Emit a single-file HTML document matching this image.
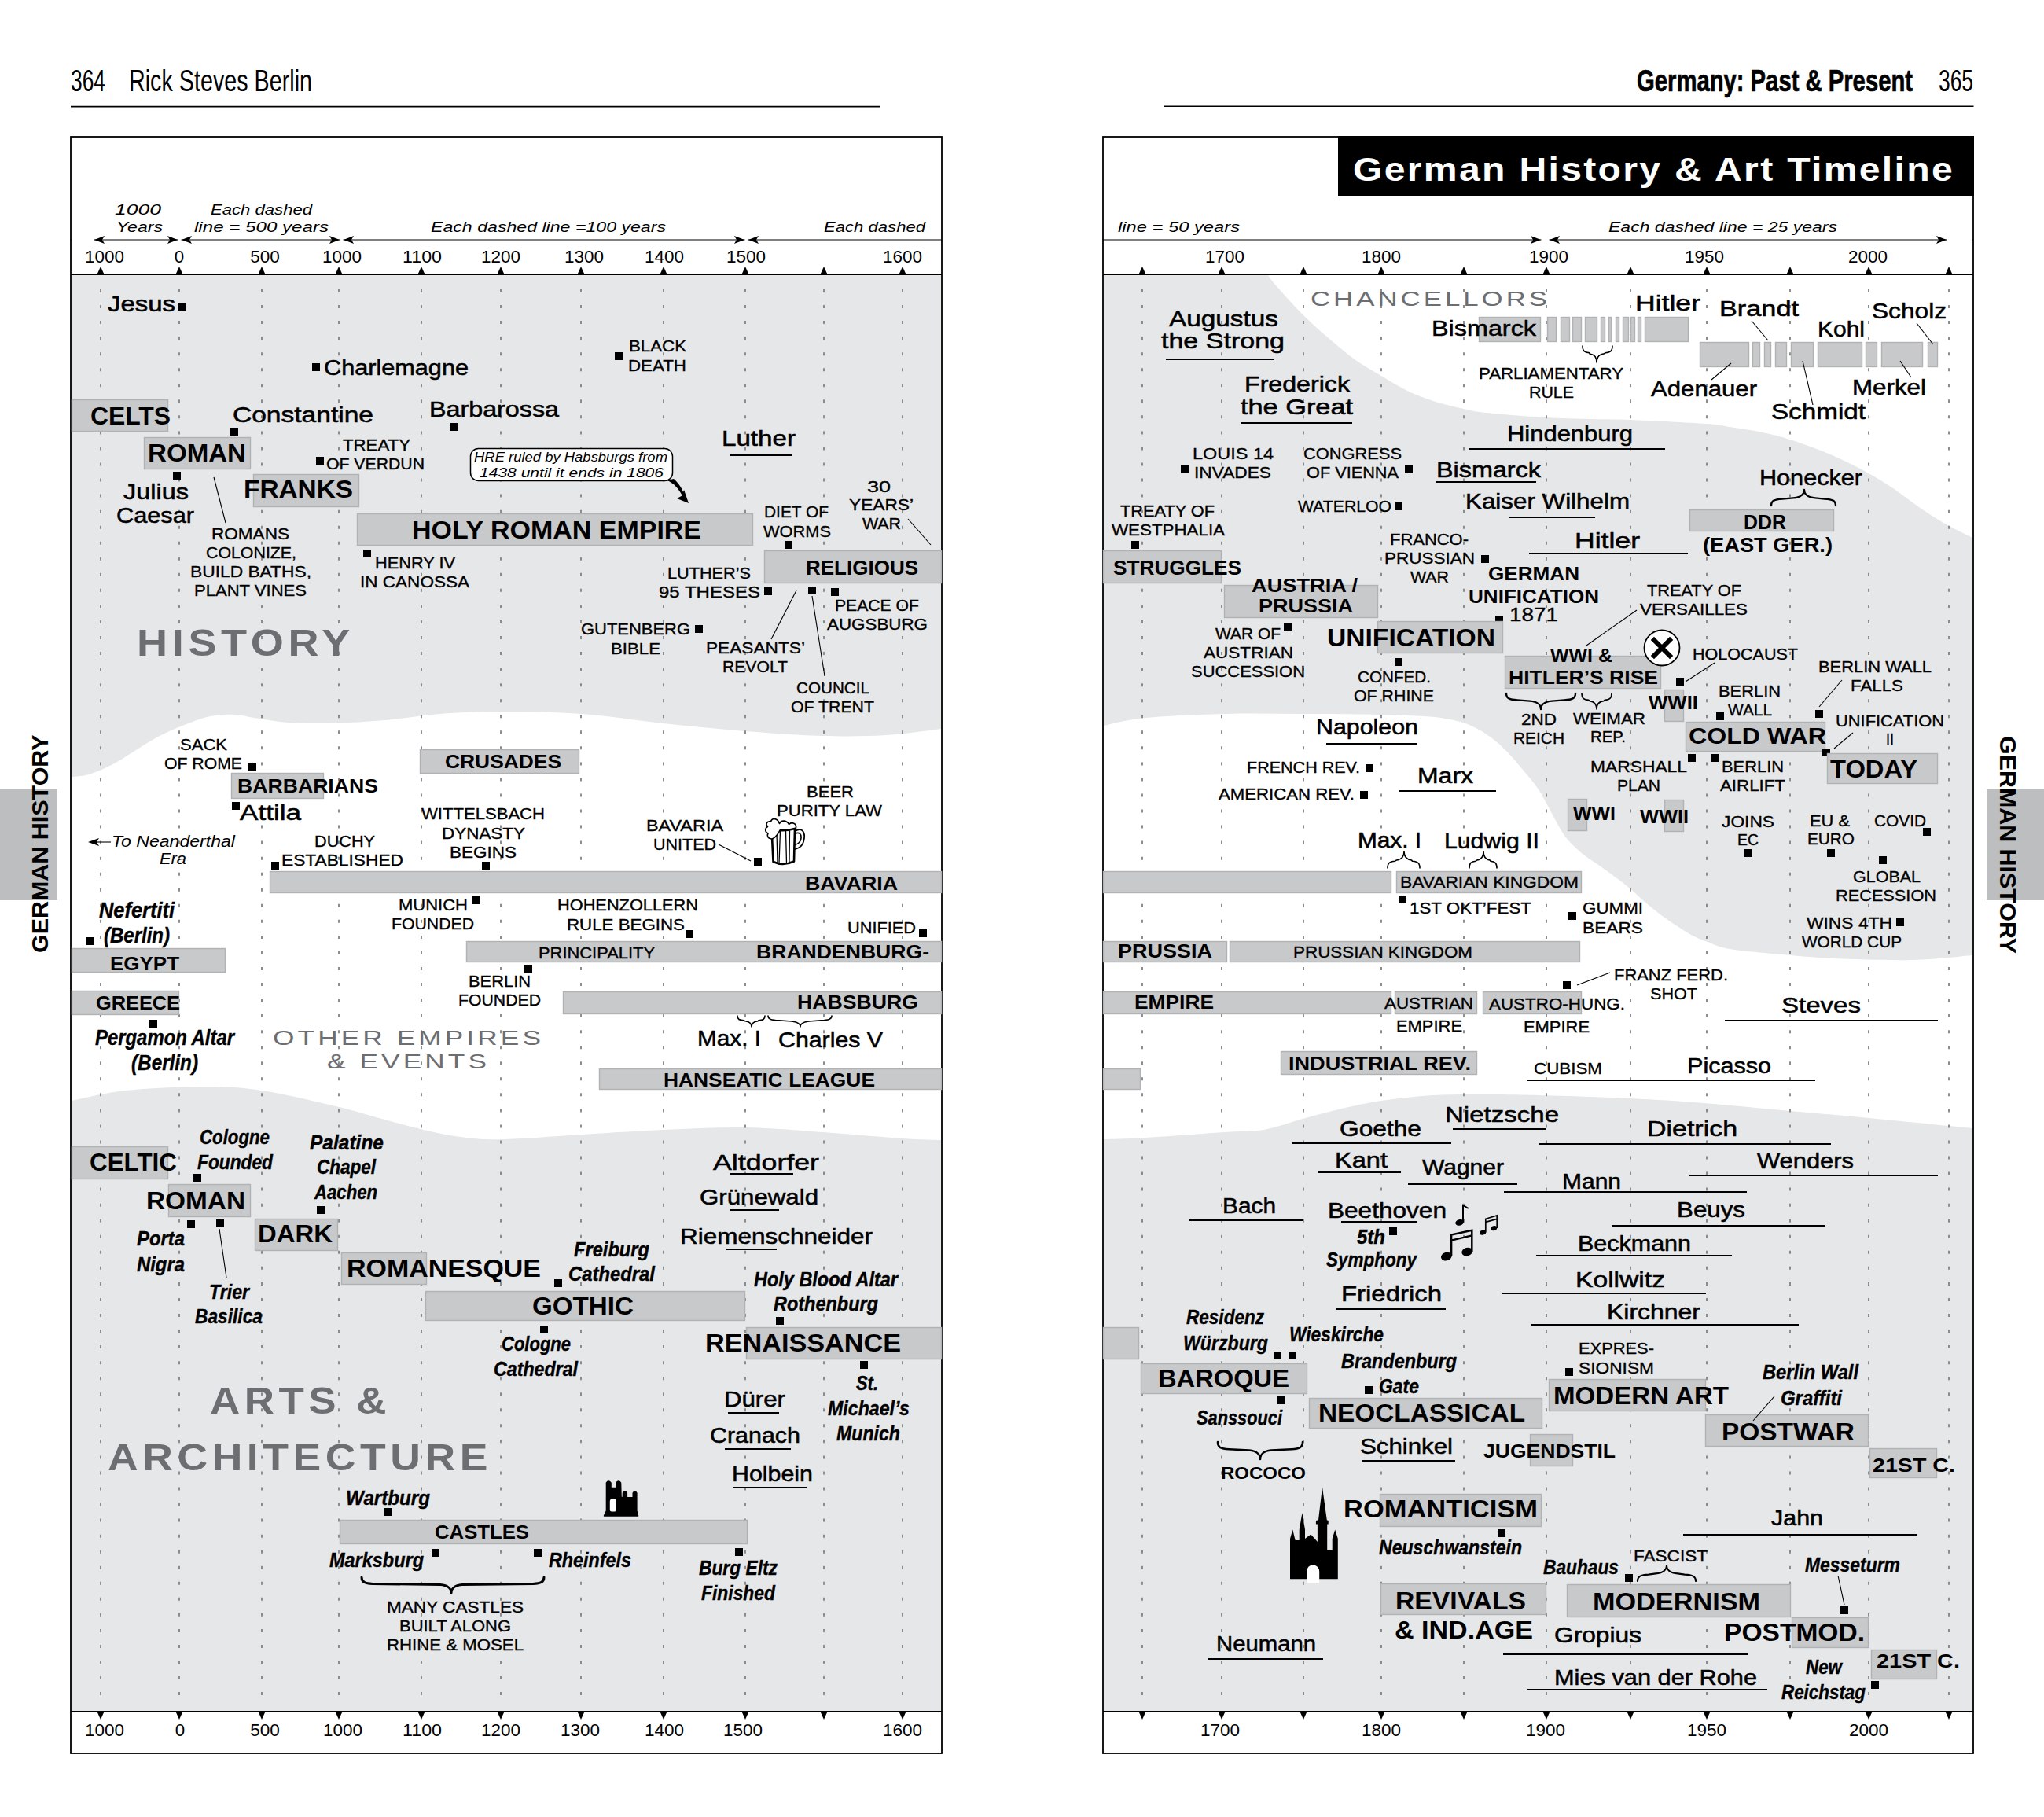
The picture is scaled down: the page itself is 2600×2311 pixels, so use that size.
<!DOCTYPE html>
<html lang="en"><head><meta charset="utf-8"><title>German History &amp; Art Timeline</title>
<style>
html,body{margin:0;padding:0;background:#fff}
svg{display:block}
text{font-family:"Liberation Sans","DejaVu Sans",sans-serif}
</style></head><body>
<svg width="2600" height="2311" viewBox="0 0 2600 2311">
<rect width="2600" height="2311" fill="#fff"/>
<rect x="0" y="1003" width="73" height="142" fill="#bdbec0"/>
<rect x="2527" y="1003" width="73" height="142" fill="#bdbec0"/>
<text transform="translate(61,1212) rotate(-90)" font-size="30" font-weight="bold" textLength="277.5" lengthAdjust="spacingAndGlyphs">GERMAN HISTORY</text>
<text transform="translate(2543.5,936) rotate(90)" font-size="30" font-weight="bold" textLength="277" lengthAdjust="spacingAndGlyphs">GERMAN HISTORY</text>
<text x="90" y="116" font-size="39.5" textLength="44" lengthAdjust="spacingAndGlyphs">364</text>
<text x="164" y="116" font-size="39.5" textLength="233" lengthAdjust="spacingAndGlyphs">Rick Steves Berlin</text>
<line x1="90" y1="135.6" x2="1120" y2="135.6" stroke="#000" stroke-width="1.6"/>
<text x="2082" y="116" font-size="39.5" font-weight="bold" textLength="351" lengthAdjust="spacingAndGlyphs" stroke="#000" stroke-width="0.7">Germany: Past &amp; Present</text>
<text x="2466" y="116" font-size="39.5" textLength="44" lengthAdjust="spacingAndGlyphs">365</text>
<line x1="1481" y1="135.3" x2="2510.5" y2="135.3" stroke="#000" stroke-width="1.6"/>
<path d="M91,350 L1197,350 L1197,927 C1185.3,928.3 1152.0,933.5 1127,935 C1102.0,936.5 1076.8,936.8 1047,936 C1017.2,935.2 982.0,932.7 948,930 C914.0,927.3 877.7,923.7 843,920 C808.3,916.3 774.3,910.5 740,908 C705.7,905.5 667.0,905.0 637,905 C607.0,905.0 584.5,906.2 560,908 C535.5,909.8 512.8,914.0 490,916 C467.2,918.0 444.0,919.2 423,919.7 C402.0,920.2 380.3,919.8 364,918.7 C347.7,917.6 334.8,914.8 325,913.3 C315.2,911.8 311.5,910.1 305,909.4 C298.5,908.7 292.5,908.7 286,909 C279.5,909.3 272.5,909.9 266,911.3 C259.5,912.7 253.5,914.9 247,917.2 C240.5,919.5 233.7,922.2 227,925 C220.3,927.8 213.5,930.7 207,934 C200.5,937.3 194.5,940.7 188,944.6 C181.5,948.5 174.5,953.2 168,957.3 C161.5,961.4 155.5,965.4 149,969 C142.5,972.6 135.5,976.2 129,979 C122.5,981.8 116.3,984.2 110,985.7 C103.7,987.2 94.2,987.6 91,988 Z" fill="#e6e7e8"/>
<path d="M91,1400 C102.5,1397.8 131.8,1390.0 160,1387 C188.2,1384.0 231.2,1382.0 260,1382 C288.8,1382.0 305.2,1382.8 333,1387 C360.8,1391.2 400.3,1400.7 427,1407 C453.7,1413.3 473.7,1419.8 493,1425 C512.3,1430.2 526.3,1434.3 543,1438 C559.7,1441.7 576.3,1445.2 593,1447 C609.7,1448.8 618.5,1449.7 643,1449 C667.5,1448.3 706.7,1445.0 740,1443 C773.3,1441.0 808.3,1438.5 843,1437 C877.7,1435.5 914.0,1433.5 948,1434 C982.0,1434.5 1013.8,1437.7 1047,1440 C1080.2,1442.3 1122.0,1446.3 1147,1448 C1172.0,1449.7 1188.7,1449.7 1197,1450 L1197,2177 L91,2177 Z" fill="#e6e7e8"/>
<path d="M1404,350 L1613,350 C1614.7,352.2 1615.7,354.7 1623,363 C1630.3,371.3 1645.8,388.8 1657,400 C1668.2,411.2 1679.0,420.5 1690,430 C1701.0,439.5 1711.8,449.0 1723,457 C1734.2,465.0 1745.8,471.3 1757,478 C1768.2,484.7 1779.0,491.7 1790,497 C1801.0,502.3 1811.0,506.2 1823,510 C1835.0,513.8 1850.8,517.5 1862,520 C1873.2,522.5 1872.8,523.2 1890,525 C1907.2,526.8 1942.8,529.7 1965,531 C1987.2,532.3 2004.8,532.5 2023,533 C2041.2,533.5 2049.5,533.0 2074,534 C2098.5,535.0 2149.0,537.5 2170,539 C2191.0,540.5 2188.0,541.2 2200,543 C2212.0,544.8 2229.2,547.3 2242,550 C2254.8,552.7 2264.7,555.2 2277,559 C2289.3,562.8 2303.8,568.2 2316,573 C2328.2,577.8 2340.0,583.2 2350,588 C2360.0,592.8 2366.3,596.0 2376,601.5 C2385.7,607.0 2397.2,613.8 2408,621 C2418.8,628.2 2430.0,637.5 2441,645 C2452.0,652.5 2462.7,659.5 2474,666 C2485.3,672.5 2503.2,681.0 2509,684 L2509,1215 C2496.3,1216.0 2462.3,1220.3 2433,1221 C2403.7,1221.7 2360.7,1220.2 2333,1219 C2305.3,1217.8 2289.2,1216.0 2267,1214 C2244.8,1212.0 2215.8,1209.7 2200,1207 C2184.2,1204.3 2180.0,1200.9 2172,1198 C2164.0,1195.1 2158.5,1192.8 2152,1189.4 C2145.5,1186.0 2139.5,1181.9 2133,1177.7 C2126.5,1173.5 2119.6,1168.9 2113,1164 C2106.4,1159.1 2100.0,1153.8 2093.5,1148.3 C2087.0,1142.8 2080.6,1136.2 2074,1130.7 C2067.4,1125.2 2060.5,1119.9 2054,1115 C2047.5,1110.1 2041.5,1105.9 2035,1101.3 C2028.5,1096.7 2021.5,1092.8 2015,1087.6 C2008.5,1082.4 2000.8,1075.2 1996,1070 C1991.2,1064.8 1990.0,1062.8 1986,1056.3 C1982.0,1049.8 1976.9,1039.8 1972,1031 C1967.1,1022.2 1962.4,1012.2 1956.6,1003.5 C1950.8,994.8 1943.5,986.8 1937,979 C1930.5,971.2 1923.9,963.2 1917.4,956.5 C1910.9,949.8 1904.6,944.0 1898,939 C1891.4,934.0 1884.5,929.6 1878,926.2 C1871.5,922.8 1867.2,920.7 1859,918.4 C1850.8,916.1 1838.8,913.8 1829,912.5 C1819.2,911.2 1812.0,911.1 1800,910.5 C1788.0,909.9 1780.8,909.4 1757,909 C1733.2,908.6 1690.3,908.2 1657,908 C1623.7,907.8 1590.3,907.2 1557,908 C1523.7,908.8 1482.5,910.5 1457,913 C1431.5,915.5 1412.8,921.3 1404,923 Z" fill="#e6e7e8"/>
<path d="M1404,1449 C1412.8,1448.7 1431.5,1448.5 1457,1447 C1482.5,1445.5 1532.0,1441.7 1557,1440 C1582.0,1438.3 1590.3,1439.8 1607,1437 C1623.7,1434.2 1640.3,1427.5 1657,1423 C1673.7,1418.5 1690.3,1413.8 1707,1410 C1723.7,1406.2 1737.7,1402.8 1757,1400 C1776.3,1397.2 1800.8,1394.3 1823,1393 C1845.2,1391.7 1867.7,1392.0 1890,1392 C1912.3,1392.0 1926.5,1392.2 1957,1393 C1987.5,1393.8 2038.0,1395.3 2073,1397 C2108.0,1398.7 2133.0,1400.3 2167,1403 C2201.0,1405.7 2242.0,1409.8 2277,1413 C2312.0,1416.2 2338.3,1418.3 2377,1422 C2415.7,1425.7 2487.0,1432.8 2509,1435 L2509,2177 L1404,2177 Z" fill="#e6e7e8"/>
<line x1="128" y1="368" x2="128" y2="2170" stroke="#87888a" stroke-width="1.9" stroke-dasharray="4 16.046"/>
<line x1="228" y1="368" x2="228" y2="2170" stroke="#87888a" stroke-width="1.9" stroke-dasharray="4 16.046"/>
<line x1="333" y1="368" x2="333" y2="2170" stroke="#87888a" stroke-width="1.9" stroke-dasharray="4 16.046"/>
<line x1="431" y1="368" x2="431" y2="2170" stroke="#87888a" stroke-width="1.9" stroke-dasharray="4 16.046"/>
<line x1="536" y1="368" x2="536" y2="2170" stroke="#87888a" stroke-width="1.9" stroke-dasharray="4 16.046"/>
<line x1="637" y1="368" x2="637" y2="2170" stroke="#87888a" stroke-width="1.9" stroke-dasharray="4 16.046"/>
<line x1="739" y1="368" x2="739" y2="2170" stroke="#87888a" stroke-width="1.9" stroke-dasharray="4 16.046"/>
<line x1="844" y1="368" x2="844" y2="2170" stroke="#87888a" stroke-width="1.9" stroke-dasharray="4 16.046"/>
<line x1="948" y1="368" x2="948" y2="2170" stroke="#87888a" stroke-width="1.9" stroke-dasharray="4 16.046"/>
<line x1="1048" y1="368" x2="1048" y2="2170" stroke="#87888a" stroke-width="1.9" stroke-dasharray="4 16.046"/>
<line x1="1148" y1="368" x2="1148" y2="2170" stroke="#87888a" stroke-width="1.9" stroke-dasharray="4 16.046"/>
<line x1="1453" y1="368" x2="1453" y2="2170" stroke="#87888a" stroke-width="1.9" stroke-dasharray="4 16.046"/>
<line x1="1554" y1="368" x2="1554" y2="2170" stroke="#87888a" stroke-width="1.9" stroke-dasharray="4 16.046"/>
<line x1="1658" y1="368" x2="1658" y2="2170" stroke="#87888a" stroke-width="1.9" stroke-dasharray="4 16.046"/>
<line x1="1757" y1="368" x2="1757" y2="2170" stroke="#87888a" stroke-width="1.9" stroke-dasharray="4 16.046"/>
<line x1="1862" y1="368" x2="1862" y2="2170" stroke="#87888a" stroke-width="1.9" stroke-dasharray="4 16.046"/>
<line x1="1967" y1="368" x2="1967" y2="2170" stroke="#87888a" stroke-width="1.9" stroke-dasharray="4 16.046"/>
<line x1="2074" y1="368" x2="2074" y2="2170" stroke="#87888a" stroke-width="1.9" stroke-dasharray="4 16.046"/>
<line x1="2171" y1="368" x2="2171" y2="2170" stroke="#87888a" stroke-width="1.9" stroke-dasharray="4 16.046"/>
<line x1="2277" y1="368" x2="2277" y2="2170" stroke="#87888a" stroke-width="1.9" stroke-dasharray="4 16.046"/>
<line x1="2377" y1="368" x2="2377" y2="2170" stroke="#87888a" stroke-width="1.9" stroke-dasharray="4 16.046"/>
<line x1="2479" y1="368" x2="2479" y2="2170" stroke="#87888a" stroke-width="1.9" stroke-dasharray="4 16.046"/>
<rect x="90" y="174" width="1108" height="2056" fill="none" stroke="#000" stroke-width="1.8"/>
<line x1="90" y1="349" x2="1198" y2="349" stroke="#000" stroke-width="2.2"/>
<line x1="90" y1="2177" x2="1198" y2="2177" stroke="#000" stroke-width="2.2"/>
<line x1="90" y1="305" x2="1198" y2="305" stroke="#000" stroke-width="1"/>
<rect x="1403" y="174" width="1107" height="2056" fill="none" stroke="#000" stroke-width="1.8"/>
<line x1="1403" y1="349" x2="2510" y2="349" stroke="#000" stroke-width="2.2"/>
<line x1="1403" y1="2177" x2="2510" y2="2177" stroke="#000" stroke-width="2.2"/>
<line x1="1403" y1="305" x2="2510" y2="305" stroke="#000" stroke-width="1"/>
<path d="M123.5,349 L128,339 L132.5,349 Z" fill="#000"/>
<path d="M123.5,2177 L128,2187 L132.5,2177 Z" fill="#000"/>
<path d="M223.5,349 L228,339 L232.5,349 Z" fill="#000"/>
<path d="M223.5,2177 L228,2187 L232.5,2177 Z" fill="#000"/>
<path d="M328.5,349 L333,339 L337.5,349 Z" fill="#000"/>
<path d="M328.5,2177 L333,2187 L337.5,2177 Z" fill="#000"/>
<path d="M426.5,349 L431,339 L435.5,349 Z" fill="#000"/>
<path d="M426.5,2177 L431,2187 L435.5,2177 Z" fill="#000"/>
<path d="M531.5,349 L536,339 L540.5,349 Z" fill="#000"/>
<path d="M531.5,2177 L536,2187 L540.5,2177 Z" fill="#000"/>
<path d="M632.5,349 L637,339 L641.5,349 Z" fill="#000"/>
<path d="M632.5,2177 L637,2187 L641.5,2177 Z" fill="#000"/>
<path d="M734.5,349 L739,339 L743.5,349 Z" fill="#000"/>
<path d="M734.5,2177 L739,2187 L743.5,2177 Z" fill="#000"/>
<path d="M839.5,349 L844,339 L848.5,349 Z" fill="#000"/>
<path d="M839.5,2177 L844,2187 L848.5,2177 Z" fill="#000"/>
<path d="M943.5,349 L948,339 L952.5,349 Z" fill="#000"/>
<path d="M943.5,2177 L948,2187 L952.5,2177 Z" fill="#000"/>
<path d="M1043.5,349 L1048,339 L1052.5,349 Z" fill="#000"/>
<path d="M1043.5,2177 L1048,2187 L1052.5,2177 Z" fill="#000"/>
<path d="M1143.5,349 L1148,339 L1152.5,349 Z" fill="#000"/>
<path d="M1143.5,2177 L1148,2187 L1152.5,2177 Z" fill="#000"/>
<path d="M1448.5,349 L1453,339 L1457.5,349 Z" fill="#000"/>
<path d="M1448.5,2177 L1453,2187 L1457.5,2177 Z" fill="#000"/>
<path d="M1549.5,349 L1554,339 L1558.5,349 Z" fill="#000"/>
<path d="M1549.5,2177 L1554,2187 L1558.5,2177 Z" fill="#000"/>
<path d="M1653.5,349 L1658,339 L1662.5,349 Z" fill="#000"/>
<path d="M1653.5,2177 L1658,2187 L1662.5,2177 Z" fill="#000"/>
<path d="M1752.5,349 L1757,339 L1761.5,349 Z" fill="#000"/>
<path d="M1752.5,2177 L1757,2187 L1761.5,2177 Z" fill="#000"/>
<path d="M1857.5,349 L1862,339 L1866.5,349 Z" fill="#000"/>
<path d="M1857.5,2177 L1862,2187 L1866.5,2177 Z" fill="#000"/>
<path d="M1962.5,349 L1967,339 L1971.5,349 Z" fill="#000"/>
<path d="M1962.5,2177 L1967,2187 L1971.5,2177 Z" fill="#000"/>
<path d="M2069.5,349 L2074,339 L2078.5,349 Z" fill="#000"/>
<path d="M2069.5,2177 L2074,2187 L2078.5,2177 Z" fill="#000"/>
<path d="M2166.5,349 L2171,339 L2175.5,349 Z" fill="#000"/>
<path d="M2166.5,2177 L2171,2187 L2175.5,2177 Z" fill="#000"/>
<path d="M2272.5,349 L2277,339 L2281.5,349 Z" fill="#000"/>
<path d="M2272.5,2177 L2277,2187 L2281.5,2177 Z" fill="#000"/>
<path d="M2372.5,349 L2377,339 L2381.5,349 Z" fill="#000"/>
<path d="M2372.5,2177 L2377,2187 L2381.5,2177 Z" fill="#000"/>
<path d="M2474.5,349 L2479,339 L2483.5,349 Z" fill="#000"/>
<path d="M2474.5,2177 L2479,2187 L2483.5,2177 Z" fill="#000"/>
<rect x="91" y="300" width="29" height="10" fill="#fff"/>
<path d="M120,305 L133,300 L130,305 L133,310 Z" fill="#000"/>
<path d="M226,305 L213,300 L216,305 L213,310 Z" fill="#000"/>
<path d="M231,305 L244,300 L241,305 L244,310 Z" fill="#000"/>
<path d="M432,305 L419,300 L422,305 L419,310 Z" fill="#000"/>
<path d="M437,305 L450,300 L447,305 L450,310 Z" fill="#000"/>
<path d="M947,305 L934,300 L937,305 L934,310 Z" fill="#000"/>
<path d="M952,305 L965,300 L962,305 L965,310 Z" fill="#000"/>
<rect x="226.5" y="300" width="4" height="10" fill="#fff"/><rect x="432.5" y="300" width="4" height="10" fill="#fff"/><rect x="947.5" y="300" width="4" height="10" fill="#fff"/>
<path d="M1960,305 L1947,300 L1950,305 L1947,310 Z" fill="#000"/>
<path d="M1971,305 L1984,300 L1981,305 L1984,310 Z" fill="#000"/>
<path d="M2476,305 L2463,300 L2466,305 L2463,310 Z" fill="#000"/>
<rect x="1960.5" y="300" width="10" height="10" fill="#fff"/><rect x="2476.5" y="300" width="32" height="10" fill="#fff"/>
<text x="108.0" y="334" font-size="22" textLength="50.0" lengthAdjust="spacingAndGlyphs">1000</text>
<text x="221.8" y="334" font-size="22" textLength="12.399999999999977" lengthAdjust="spacingAndGlyphs">0</text>
<text x="318.2" y="334" font-size="22" textLength="37.60000000000002" lengthAdjust="spacingAndGlyphs">500</text>
<text x="410.0" y="334" font-size="22" textLength="50.0" lengthAdjust="spacingAndGlyphs">1000</text>
<text x="512.0" y="334" font-size="22" textLength="50.0" lengthAdjust="spacingAndGlyphs">1100</text>
<text x="612.0" y="334" font-size="22" textLength="50.0" lengthAdjust="spacingAndGlyphs">1200</text>
<text x="718.0" y="334" font-size="22" textLength="50.0" lengthAdjust="spacingAndGlyphs">1300</text>
<text x="820.0" y="334" font-size="22" textLength="50.0" lengthAdjust="spacingAndGlyphs">1400</text>
<text x="924.0" y="334" font-size="22" textLength="50.0" lengthAdjust="spacingAndGlyphs">1500</text>
<text x="1123.0" y="334" font-size="22" textLength="50.0" lengthAdjust="spacingAndGlyphs">1600</text>
<text x="1533.0" y="334" font-size="22" textLength="50.0" lengthAdjust="spacingAndGlyphs">1700</text>
<text x="1732.0" y="334" font-size="22" textLength="50.0" lengthAdjust="spacingAndGlyphs">1800</text>
<text x="1945.0" y="334" font-size="22" textLength="50.0" lengthAdjust="spacingAndGlyphs">1900</text>
<text x="2143.0" y="334" font-size="22" textLength="50.0" lengthAdjust="spacingAndGlyphs">1950</text>
<text x="2351.0" y="334" font-size="22" textLength="50.0" lengthAdjust="spacingAndGlyphs">2000</text>
<text x="108.0" y="2208" font-size="22" textLength="50.0" lengthAdjust="spacingAndGlyphs">1000</text>
<text x="222.8" y="2208" font-size="22" textLength="12.399999999999977" lengthAdjust="spacingAndGlyphs">0</text>
<text x="318.2" y="2208" font-size="22" textLength="37.60000000000002" lengthAdjust="spacingAndGlyphs">500</text>
<text x="411.0" y="2208" font-size="22" textLength="50.0" lengthAdjust="spacingAndGlyphs">1000</text>
<text x="512.0" y="2208" font-size="22" textLength="50.0" lengthAdjust="spacingAndGlyphs">1100</text>
<text x="612.0" y="2208" font-size="22" textLength="50.0" lengthAdjust="spacingAndGlyphs">1200</text>
<text x="713.0" y="2208" font-size="22" textLength="50.0" lengthAdjust="spacingAndGlyphs">1300</text>
<text x="820.0" y="2208" font-size="22" textLength="50.0" lengthAdjust="spacingAndGlyphs">1400</text>
<text x="920.0" y="2208" font-size="22" textLength="50.0" lengthAdjust="spacingAndGlyphs">1500</text>
<text x="1123.0" y="2208" font-size="22" textLength="50.0" lengthAdjust="spacingAndGlyphs">1600</text>
<text x="1527.0" y="2208" font-size="22" textLength="50.0" lengthAdjust="spacingAndGlyphs">1700</text>
<text x="1732.0" y="2208" font-size="22" textLength="50.0" lengthAdjust="spacingAndGlyphs">1800</text>
<text x="1941.0" y="2208" font-size="22" textLength="50.0" lengthAdjust="spacingAndGlyphs">1900</text>
<text x="2146.0" y="2208" font-size="22" textLength="50.0" lengthAdjust="spacingAndGlyphs">1950</text>
<text x="2352.0" y="2208" font-size="22" textLength="50.0" lengthAdjust="spacingAndGlyphs">2000</text>
<text x="146" y="273" font-size="19" font-style="italic" textLength="59" lengthAdjust="spacingAndGlyphs">1000</text>
<text x="148" y="295" font-size="19" font-style="italic" textLength="59" lengthAdjust="spacingAndGlyphs">Years</text>
<text x="268" y="273" font-size="19" font-style="italic" textLength="129" lengthAdjust="spacingAndGlyphs">Each dashed</text>
<text x="247" y="295" font-size="19" font-style="italic" textLength="171" lengthAdjust="spacingAndGlyphs">line = 500 years</text>
<text x="548" y="295" font-size="19" font-style="italic" textLength="299" lengthAdjust="spacingAndGlyphs">Each dashed line =100 years</text>
<text x="1048" y="295" font-size="19" font-style="italic" textLength="129" lengthAdjust="spacingAndGlyphs">Each dashed</text>
<text x="1422" y="295" font-size="19" font-style="italic" textLength="155" lengthAdjust="spacingAndGlyphs">line = 50 years</text>
<text x="2046" y="295" font-size="19" font-style="italic" textLength="291" lengthAdjust="spacingAndGlyphs">Each dashed line = 25 years</text>
<rect x="1702" y="173" width="809" height="76" fill="#000"/>
<text x="1721" y="230" font-size="42" font-weight="bold" fill="#fff" letter-spacing="2" textLength="765" lengthAdjust="spacingAndGlyphs">German History &amp; Art Timeline</text>
<text x="137" y="396" font-size="28.5" stroke="#000" stroke-width="0.55" textLength="86" lengthAdjust="spacingAndGlyphs">Jesus</text>
<rect x="226" y="385" width="10" height="10" fill="#000"/>
<rect x="397" y="462" width="10" height="10" fill="#000"/>
<text x="412" y="477" font-size="28.5" stroke="#000" stroke-width="0.55" textLength="184" lengthAdjust="spacingAndGlyphs">Charlemagne</text>
<rect x="91.5" y="508.5" width="122" height="40" fill="#c8c9cb" stroke="#b1b2b4" stroke-width="1.4"/>
<text x="115" y="540" font-size="32" font-weight="bold" textLength="102" lengthAdjust="spacingAndGlyphs">CELTS</text>
<text x="296" y="537" font-size="28.5" stroke="#000" stroke-width="0.55" textLength="179" lengthAdjust="spacingAndGlyphs">Constantine</text>
<rect x="293" y="544" width="10" height="10" fill="#000"/>
<text x="546" y="530" font-size="28.5" stroke="#000" stroke-width="0.55" textLength="165" lengthAdjust="spacingAndGlyphs">Barbarossa</text>
<rect x="573" y="538" width="10" height="10" fill="#000"/>
<rect x="183.5" y="556.5" width="135" height="40" fill="#c8c9cb" stroke="#b1b2b4" stroke-width="1.4"/>
<text x="188" y="587" font-size="32" font-weight="bold" textLength="125" lengthAdjust="spacingAndGlyphs">ROMAN</text>
<text x="436" y="573" font-size="21" stroke="#000" stroke-width="0.35" textLength="86" lengthAdjust="spacingAndGlyphs">TREATY</text>
<text x="415" y="597" font-size="21" stroke="#000" stroke-width="0.35" textLength="125" lengthAdjust="spacingAndGlyphs">OF VERDUN</text>
<rect x="402" y="581" width="10" height="10" fill="#000"/>
<rect x="322.5" y="603.5" width="134" height="41" fill="#c8c9cb" stroke="#b1b2b4" stroke-width="1.4"/>
<text x="310" y="633" font-size="32" font-weight="bold" textLength="139" lengthAdjust="spacingAndGlyphs">FRANKS</text>
<rect x="220" y="600" width="10" height="10" fill="#000"/>
<text x="157" y="635" font-size="28.5" stroke="#000" stroke-width="0.55" textLength="83" lengthAdjust="spacingAndGlyphs">Julius</text>
<text x="148" y="665" font-size="28.5" stroke="#000" stroke-width="0.55" textLength="99" lengthAdjust="spacingAndGlyphs">Caesar</text>
<line x1="272" y1="607" x2="287" y2="665" stroke="#000" stroke-width="1.1"/>
<rect x="782" y="448" width="10" height="10" fill="#000"/>
<text x="800" y="447" font-size="21" stroke="#000" stroke-width="0.35" textLength="73" lengthAdjust="spacingAndGlyphs">BLACK</text>
<text x="799" y="472" font-size="21" stroke="#000" stroke-width="0.35" textLength="74" lengthAdjust="spacingAndGlyphs">DEATH</text>
<text x="918" y="567" font-size="28.5" stroke="#000" stroke-width="0.55" textLength="94" lengthAdjust="spacingAndGlyphs">Luther</text>
<line x1="929" y1="579" x2="1008" y2="579" stroke="#000" stroke-width="1.8"/>
<path d="M848,611 C857,614 864,622 868.5,632 L871,630.5 C867.5,621 863,614 857,609 Z" fill="#000"/>
<rect x="598.5" y="570.5" width="257" height="41" rx="10" ry="10" fill="#fff" stroke="#000" stroke-width="1.5"/>
<text x="603" y="587" font-size="16.5" font-style="italic" textLength="246" lengthAdjust="spacingAndGlyphs">HRE ruled by Habsburgs from</text>
<text x="610" y="607" font-size="16.5" font-style="italic" textLength="234" lengthAdjust="spacingAndGlyphs">1438 until it ends in 1806</text>
<path d="M876,640 L861,634 L867.5,630.5 L870,623 Z" fill="#000"/>
<text x="1103" y="626" font-size="21" stroke="#000" stroke-width="0.35" textLength="30" lengthAdjust="spacingAndGlyphs">30</text>
<text x="1080" y="649" font-size="21" stroke="#000" stroke-width="0.35" textLength="82" lengthAdjust="spacingAndGlyphs">YEARS’</text>
<text x="1097" y="673" font-size="21" stroke="#000" stroke-width="0.35" textLength="49" lengthAdjust="spacingAndGlyphs">WAR</text>
<line x1="1155" y1="660" x2="1184" y2="693" stroke="#000" stroke-width="1.1"/>
<text x="972" y="658" font-size="21" stroke="#000" stroke-width="0.35" textLength="82" lengthAdjust="spacingAndGlyphs">DIET OF</text>
<text x="971" y="683" font-size="21" stroke="#000" stroke-width="0.35" textLength="86" lengthAdjust="spacingAndGlyphs">WORMS</text>
<rect x="998" y="688" width="10" height="10" fill="#000"/>
<text x="269" y="686" font-size="21" stroke="#000" stroke-width="0.35" textLength="99" lengthAdjust="spacingAndGlyphs">ROMANS</text>
<text x="262" y="710" font-size="21" stroke="#000" stroke-width="0.35" textLength="115" lengthAdjust="spacingAndGlyphs">COLONIZE,</text>
<text x="242" y="734" font-size="21" stroke="#000" stroke-width="0.35" textLength="154" lengthAdjust="spacingAndGlyphs">BUILD BATHS,</text>
<text x="247" y="758" font-size="21" stroke="#000" stroke-width="0.35" textLength="143" lengthAdjust="spacingAndGlyphs">PLANT VINES</text>
<rect x="454.5" y="653.5" width="503" height="40" fill="#c8c9cb" stroke="#b1b2b4" stroke-width="1.4"/>
<text x="524" y="685" font-size="32" font-weight="bold" textLength="368" lengthAdjust="spacingAndGlyphs">HOLY ROMAN EMPIRE</text>
<rect x="462" y="699" width="10" height="10" fill="#000"/>
<text x="477" y="723" font-size="21" stroke="#000" stroke-width="0.35" textLength="102" lengthAdjust="spacingAndGlyphs">HENRY IV</text>
<text x="458" y="747" font-size="21" stroke="#000" stroke-width="0.35" textLength="139" lengthAdjust="spacingAndGlyphs">IN CANOSSA</text>
<text x="174" y="834" font-size="48" font-weight="bold" fill="#6d6e71" letter-spacing="5" textLength="277" lengthAdjust="spacingAndGlyphs">HISTORY</text>
<rect x="972.5" y="700.5" width="225" height="41" fill="#c8c9cb" stroke="#b1b2b4" stroke-width="1.4"/>
<text x="1025" y="731" font-size="25" font-weight="bold" textLength="143" lengthAdjust="spacingAndGlyphs">RELIGIOUS</text>
<text x="849" y="736" font-size="21" stroke="#000" stroke-width="0.35" textLength="106" lengthAdjust="spacingAndGlyphs">LUTHER’S</text>
<text x="838" y="760" font-size="21" stroke="#000" stroke-width="0.35" textLength="129" lengthAdjust="spacingAndGlyphs">95 THESES</text>
<rect x="972" y="747" width="10" height="10" fill="#000"/>
<rect x="1028" y="746" width="10" height="10" fill="#000"/>
<rect x="1057" y="748" width="10" height="10" fill="#000"/>
<text x="1062" y="777" font-size="21" stroke="#000" stroke-width="0.35" textLength="107" lengthAdjust="spacingAndGlyphs">PEACE OF</text>
<text x="1052" y="801" font-size="21" stroke="#000" stroke-width="0.35" textLength="128" lengthAdjust="spacingAndGlyphs">AUGSBURG</text>
<text x="739" y="807" font-size="21" stroke="#000" stroke-width="0.35" textLength="139" lengthAdjust="spacingAndGlyphs">GUTENBERG</text>
<rect x="884" y="795" width="10" height="10" fill="#000"/>
<text x="777" y="832" font-size="21" stroke="#000" stroke-width="0.35" textLength="63" lengthAdjust="spacingAndGlyphs">BIBLE</text>
<text x="898" y="831" font-size="21" stroke="#000" stroke-width="0.35" textLength="126" lengthAdjust="spacingAndGlyphs">PEASANTS’</text>
<text x="919" y="855" font-size="21" stroke="#000" stroke-width="0.35" textLength="83" lengthAdjust="spacingAndGlyphs">REVOLT</text>
<line x1="1013" y1="751" x2="981" y2="813" stroke="#000" stroke-width="1.1"/>
<text x="1013" y="882" font-size="21" stroke="#000" stroke-width="0.35" textLength="93" lengthAdjust="spacingAndGlyphs">COUNCIL</text>
<text x="1006" y="906" font-size="21" stroke="#000" stroke-width="0.35" textLength="106" lengthAdjust="spacingAndGlyphs">OF TRENT</text>
<line x1="1033" y1="758" x2="1049" y2="860" stroke="#000" stroke-width="1.1"/>
<text x="229" y="954" font-size="21" stroke="#000" stroke-width="0.35" textLength="60" lengthAdjust="spacingAndGlyphs">SACK</text>
<text x="209" y="978" font-size="21" stroke="#000" stroke-width="0.35" textLength="99" lengthAdjust="spacingAndGlyphs">OF ROME</text>
<rect x="316" y="970" width="10" height="10" fill="#000"/>
<rect x="294.5" y="983.5" width="117" height="32" fill="#c8c9cb" stroke="#b1b2b4" stroke-width="1.4"/>
<text x="302" y="1008" font-size="24" font-weight="bold" textLength="179" lengthAdjust="spacingAndGlyphs">BARBARIANS</text>
<rect x="534.5" y="953.5" width="202" height="30" fill="#c8c9cb" stroke="#b1b2b4" stroke-width="1.4"/>
<text x="566" y="977" font-size="24" font-weight="bold" textLength="148" lengthAdjust="spacingAndGlyphs">CRUSADES</text>
<rect x="295" y="1020" width="10" height="10" fill="#000"/>
<text x="305" y="1043" font-size="28.5" stroke="#000" stroke-width="0.55" textLength="78" lengthAdjust="spacingAndGlyphs">Attila</text>
<path d="M112,1071 L126,1066 L123,1071 L126,1076 Z" fill="#000"/>
<line x1="123" y1="1071" x2="141" y2="1071" stroke="#000" stroke-width="1.1"/>
<text x="142" y="1077" font-size="20" font-style="italic" textLength="157" lengthAdjust="spacingAndGlyphs">To Neanderthal</text>
<text x="203" y="1099" font-size="20" font-style="italic" textLength="34" lengthAdjust="spacingAndGlyphs">Era</text>
<text x="400" y="1077" font-size="21" stroke="#000" stroke-width="0.35" textLength="77" lengthAdjust="spacingAndGlyphs">DUCHY</text>
<text x="358" y="1101" font-size="21" stroke="#000" stroke-width="0.35" textLength="155" lengthAdjust="spacingAndGlyphs">ESTABLISHED</text>
<rect x="345" y="1096" width="10" height="10" fill="#000"/>
<text x="536" y="1042" font-size="21" stroke="#000" stroke-width="0.35" textLength="157" lengthAdjust="spacingAndGlyphs">WITTELSBACH</text>
<text x="562" y="1067" font-size="21" stroke="#000" stroke-width="0.35" textLength="106" lengthAdjust="spacingAndGlyphs">DYNASTY</text>
<text x="572" y="1091" font-size="21" stroke="#000" stroke-width="0.35" textLength="85" lengthAdjust="spacingAndGlyphs">BEGINS</text>
<rect x="613" y="1096" width="10" height="10" fill="#000"/>
<rect x="343.5" y="1108.5" width="854" height="27" fill="#c8c9cb" stroke="#b1b2b4" stroke-width="1.4"/>
<text x="1024" y="1132" font-size="24" font-weight="bold" textLength="118" lengthAdjust="spacingAndGlyphs">BAVARIA</text>
<rect x="600" y="1140" width="10" height="10" fill="#000"/>
<text x="507" y="1158" font-size="21" stroke="#000" stroke-width="0.35" textLength="88" lengthAdjust="spacingAndGlyphs">MUNICH</text>
<text x="498" y="1182" font-size="21" stroke="#000" stroke-width="0.35" textLength="105" lengthAdjust="spacingAndGlyphs">FOUNDED</text>
<text x="126" y="1167" font-size="28" font-weight="bold" font-style="italic" stroke="#000" stroke-width="0.4" textLength="96" lengthAdjust="spacingAndGlyphs">Nefertiti</text>
<text x="132" y="1199" font-size="28" font-weight="bold" font-style="italic" stroke="#000" stroke-width="0.4" textLength="84" lengthAdjust="spacingAndGlyphs">(Berlin)</text>
<rect x="110" y="1192" width="10" height="10" fill="#000"/>
<rect x="91.5" y="1206.5" width="195" height="30" fill="#c8c9cb" stroke="#b1b2b4" stroke-width="1.4"/>
<text x="140" y="1233.5" font-size="24" font-weight="bold" textLength="88" lengthAdjust="spacingAndGlyphs">EGYPT</text>
<text x="1026" y="1014" font-size="21" stroke="#000" stroke-width="0.35" textLength="60" lengthAdjust="spacingAndGlyphs">BEER</text>
<text x="988" y="1038" font-size="21" stroke="#000" stroke-width="0.35" textLength="134" lengthAdjust="spacingAndGlyphs">PURITY LAW</text>
<text x="822" y="1057" font-size="21" stroke="#000" stroke-width="0.35" textLength="98" lengthAdjust="spacingAndGlyphs">BAVARIA</text>
<text x="831" y="1081" font-size="21" stroke="#000" stroke-width="0.35" textLength="80" lengthAdjust="spacingAndGlyphs">UNITED</text>
<line x1="914" y1="1074" x2="955" y2="1095" stroke="#000" stroke-width="1.1"/>
<rect x="959" y="1091" width="10" height="10" fill="#000"/>
<text x="709" y="1158" font-size="21" stroke="#000" stroke-width="0.35" textLength="179" lengthAdjust="spacingAndGlyphs">HOHENZOLLERN</text>
<text x="721" y="1183" font-size="21" stroke="#000" stroke-width="0.35" textLength="150" lengthAdjust="spacingAndGlyphs">RULE BEGINS</text>
<rect x="872" y="1183" width="10" height="10" fill="#000"/>
<text x="1078" y="1187" font-size="21" stroke="#000" stroke-width="0.35" textLength="87" lengthAdjust="spacingAndGlyphs">UNIFIED</text>
<rect x="1169" y="1182" width="10" height="10" fill="#000"/>
<rect x="593.5" y="1197.5" width="604" height="26" fill="#c8c9cb" stroke="#b1b2b4" stroke-width="1.4"/>
<text x="685" y="1219" font-size="21" stroke="#000" stroke-width="0.35" textLength="148" lengthAdjust="spacingAndGlyphs">PRINCIPALITY</text>
<text x="962" y="1219" font-size="24" font-weight="bold" textLength="220" lengthAdjust="spacingAndGlyphs">BRANDENBURG-</text>
<rect x="667" y="1227" width="10" height="10" fill="#000"/>
<text x="596" y="1255" font-size="21" stroke="#000" stroke-width="0.35" textLength="79" lengthAdjust="spacingAndGlyphs">BERLIN</text>
<text x="583" y="1279" font-size="21" stroke="#000" stroke-width="0.35" textLength="105" lengthAdjust="spacingAndGlyphs">FOUNDED</text>
<rect x="91.5" y="1260.5" width="136" height="30" fill="#c8c9cb" stroke="#b1b2b4" stroke-width="1.4"/>
<text x="122" y="1284" font-size="24" font-weight="bold" textLength="107" lengthAdjust="spacingAndGlyphs">GREECE</text>
<rect x="190" y="1297" width="10" height="10" fill="#000"/>
<text x="121" y="1329" font-size="28" font-weight="bold" font-style="italic" stroke="#000" stroke-width="0.4" textLength="177" lengthAdjust="spacingAndGlyphs">Pergamon Altar</text>
<text x="167" y="1361" font-size="28" font-weight="bold" font-style="italic" stroke="#000" stroke-width="0.4" textLength="85" lengthAdjust="spacingAndGlyphs">(Berlin)</text>
<text x="347" y="1329" font-size="26" fill="#6d6e71" letter-spacing="3" textLength="345" lengthAdjust="spacingAndGlyphs">OTHER EMPIRES</text>
<text x="416" y="1359" font-size="26" fill="#6d6e71" letter-spacing="3" textLength="207" lengthAdjust="spacingAndGlyphs">&amp; EVENTS</text>
<rect x="716.5" y="1261.5" width="481" height="28" fill="#c8c9cb" stroke="#b1b2b4" stroke-width="1.4"/>
<text x="1014" y="1283" font-size="24" font-weight="bold" textLength="154" lengthAdjust="spacingAndGlyphs">HABSBURG</text>
<path d="M938,1292 C938,1296.48 940.4418604651163,1297.46 946.1395348837209,1297.88 L947.8604651162791,1298.72 C953.9651162790698,1299.2800000000002 956,1302.7800000000002 956,1306 C956,1302.7800000000002 958.0348837209302,1299.2800000000002 964.1395348837209,1298.72 L964.8604651162791,1297.88 C970.5581395348837,1297.46 973,1296.48 973,1292" fill="none" stroke="#000" stroke-width="1.6" stroke-linecap="round" stroke-linejoin="round"/>
<path d="M977,1292 C977,1296.48 981.2,1297.46 991,1297.88 L1004,1298.72 C1014.5,1299.2800000000002 1018,1302.7800000000002 1018,1306 C1018,1302.7800000000002 1021.5,1299.2800000000002 1032,1298.72 L1044,1297.88 C1053.8,1297.46 1058,1296.48 1058,1292" fill="none" stroke="#000" stroke-width="1.6" stroke-linecap="round" stroke-linejoin="round"/>
<text x="887" y="1330" font-size="28" stroke="#000" stroke-width="0.55" textLength="81" lengthAdjust="spacingAndGlyphs">Max. I</text>
<text x="990" y="1332" font-size="28" stroke="#000" stroke-width="0.55" textLength="133" lengthAdjust="spacingAndGlyphs">Charles V</text>
<rect x="762.5" y="1359.5" width="435" height="26" fill="#c8c9cb" stroke="#b1b2b4" stroke-width="1.4"/>
<text x="844" y="1382" font-size="24" font-weight="bold" textLength="269" lengthAdjust="spacingAndGlyphs">HANSEATIC LEAGUE</text>
<rect x="91.5" y="1458.5" width="122" height="41" fill="#c8c9cb" stroke="#b1b2b4" stroke-width="1.4"/>
<text x="114" y="1489" font-size="32" font-weight="bold" textLength="111" lengthAdjust="spacingAndGlyphs">CELTIC</text>
<text x="254" y="1455" font-size="26" font-weight="bold" font-style="italic" stroke="#000" stroke-width="0.4" textLength="89" lengthAdjust="spacingAndGlyphs">Cologne</text>
<text x="251" y="1487" font-size="26" font-weight="bold" font-style="italic" stroke="#000" stroke-width="0.4" textLength="96" lengthAdjust="spacingAndGlyphs">Founded</text>
<rect x="246" y="1493" width="10" height="10" fill="#000"/>
<rect x="214.5" y="1506.5" width="104" height="41" fill="#c8c9cb" stroke="#b1b2b4" stroke-width="1.4"/>
<text x="186" y="1538" font-size="32" font-weight="bold" textLength="126" lengthAdjust="spacingAndGlyphs">ROMAN</text>
<rect x="238" y="1552" width="10" height="10" fill="#000"/>
<rect x="275" y="1551" width="10" height="10" fill="#000"/>
<text x="174" y="1584" font-size="26" font-weight="bold" font-style="italic" stroke="#000" stroke-width="0.4" textLength="61" lengthAdjust="spacingAndGlyphs">Porta</text>
<text x="174" y="1617" font-size="26" font-weight="bold" font-style="italic" stroke="#000" stroke-width="0.4" textLength="61" lengthAdjust="spacingAndGlyphs">Nigra</text>
<line x1="279" y1="1563" x2="288" y2="1625" stroke="#000" stroke-width="1.1"/>
<text x="266" y="1652" font-size="26" font-weight="bold" font-style="italic" stroke="#000" stroke-width="0.4" textLength="51" lengthAdjust="spacingAndGlyphs">Trier</text>
<text x="248" y="1683" font-size="26" font-weight="bold" font-style="italic" stroke="#000" stroke-width="0.4" textLength="86" lengthAdjust="spacingAndGlyphs">Basilica</text>
<text x="394" y="1462" font-size="26" font-weight="bold" font-style="italic" stroke="#000" stroke-width="0.4" textLength="94" lengthAdjust="spacingAndGlyphs">Palatine</text>
<text x="403" y="1493" font-size="26" font-weight="bold" font-style="italic" stroke="#000" stroke-width="0.4" textLength="75" lengthAdjust="spacingAndGlyphs">Chapel</text>
<text x="400" y="1525" font-size="26" font-weight="bold" font-style="italic" stroke="#000" stroke-width="0.4" textLength="80" lengthAdjust="spacingAndGlyphs">Aachen</text>
<rect x="403" y="1534" width="10" height="10" fill="#000"/>
<rect x="324.5" y="1550.5" width="105" height="40" fill="#c8c9cb" stroke="#b1b2b4" stroke-width="1.4"/>
<text x="328" y="1580" font-size="32" font-weight="bold" textLength="95" lengthAdjust="spacingAndGlyphs">DARK</text>
<rect x="434.5" y="1593.5" width="108" height="40" fill="#c8c9cb" stroke="#b1b2b4" stroke-width="1.4"/>
<text x="441" y="1624" font-size="32" font-weight="bold" textLength="247" lengthAdjust="spacingAndGlyphs">ROMANESQUE</text>
<rect x="705" y="1627" width="10" height="10" fill="#000"/>
<rect x="541.5" y="1642.5" width="406" height="37" fill="#c8c9cb" stroke="#b1b2b4" stroke-width="1.4"/>
<text x="677" y="1672" font-size="32" font-weight="bold" textLength="129" lengthAdjust="spacingAndGlyphs">GOTHIC</text>
<rect x="687" y="1686" width="10" height="10" fill="#000"/>
<text x="638" y="1718" font-size="26" font-weight="bold" font-style="italic" stroke="#000" stroke-width="0.4" textLength="88" lengthAdjust="spacingAndGlyphs">Cologne</text>
<text x="628" y="1750" font-size="26" font-weight="bold" font-style="italic" stroke="#000" stroke-width="0.4" textLength="107" lengthAdjust="spacingAndGlyphs">Cathedral</text>
<text x="267" y="1798" font-size="48" font-weight="bold" fill="#6d6e71" letter-spacing="5" textLength="230" lengthAdjust="spacingAndGlyphs">ARTS &amp;</text>
<text x="137" y="1870" font-size="48" font-weight="bold" fill="#6d6e71" letter-spacing="5" textLength="489" lengthAdjust="spacingAndGlyphs">ARCHITECTURE</text>
<text x="907" y="1488" font-size="28.5" stroke="#000" stroke-width="0.55" textLength="135" lengthAdjust="spacingAndGlyphs">Altdorfer</text>
<line x1="929" y1="1493" x2="1009" y2="1493" stroke="#000" stroke-width="1.8"/>
<text x="890" y="1532" font-size="28.5" stroke="#000" stroke-width="0.55" textLength="151" lengthAdjust="spacingAndGlyphs">Grünewald</text>
<line x1="929" y1="1539" x2="991" y2="1539" stroke="#000" stroke-width="1.8"/>
<text x="865" y="1582" font-size="28.5" stroke="#000" stroke-width="0.55" textLength="245" lengthAdjust="spacingAndGlyphs">Riemenschneider</text>
<line x1="923" y1="1589" x2="988" y2="1589" stroke="#000" stroke-width="1.8"/>
<text x="730" y="1598" font-size="26" font-weight="bold" font-style="italic" stroke="#000" stroke-width="0.4" textLength="96" lengthAdjust="spacingAndGlyphs">Freiburg</text>
<text x="723" y="1629" font-size="26" font-weight="bold" font-style="italic" stroke="#000" stroke-width="0.4" textLength="110" lengthAdjust="spacingAndGlyphs">Cathedral</text>
<text x="959" y="1636" font-size="26" font-weight="bold" font-style="italic" stroke="#000" stroke-width="0.4" textLength="183" lengthAdjust="spacingAndGlyphs">Holy Blood Altar</text>
<text x="984" y="1667" font-size="26" font-weight="bold" font-style="italic" stroke="#000" stroke-width="0.4" textLength="133" lengthAdjust="spacingAndGlyphs">Rothenburg</text>
<rect x="987" y="1675" width="10" height="10" fill="#000"/>
<rect x="949.5" y="1688.5" width="248" height="40" fill="#c8c9cb" stroke="#b1b2b4" stroke-width="1.4"/>
<text x="897" y="1719" font-size="32" font-weight="bold" textLength="249" lengthAdjust="spacingAndGlyphs">RENAISSANCE</text>
<rect x="1094" y="1731" width="10" height="10" fill="#000"/>
<text x="1089" y="1768" font-size="26" font-weight="bold" font-style="italic" stroke="#000" stroke-width="0.4" textLength="28" lengthAdjust="spacingAndGlyphs">St.</text>
<text x="1053" y="1800" font-size="26" font-weight="bold" font-style="italic" stroke="#000" stroke-width="0.4" textLength="104" lengthAdjust="spacingAndGlyphs">Michael’s</text>
<text x="1064" y="1832" font-size="26" font-weight="bold" font-style="italic" stroke="#000" stroke-width="0.4" textLength="81" lengthAdjust="spacingAndGlyphs">Munich</text>
<text x="921" y="1789" font-size="28.5" stroke="#000" stroke-width="0.55" textLength="78" lengthAdjust="spacingAndGlyphs">Dürer</text>
<line x1="926" y1="1797" x2="991" y2="1797" stroke="#000" stroke-width="1.8"/>
<text x="903" y="1835" font-size="28.5" stroke="#000" stroke-width="0.55" textLength="115" lengthAdjust="spacingAndGlyphs">Cranach</text>
<line x1="922" y1="1843" x2="1006" y2="1843" stroke="#000" stroke-width="1.8"/>
<text x="931" y="1884" font-size="28.5" stroke="#000" stroke-width="0.55" textLength="103" lengthAdjust="spacingAndGlyphs">Holbein</text>
<line x1="932" y1="1892" x2="1027" y2="1892" stroke="#000" stroke-width="1.8"/>
<text x="440" y="1914" font-size="26" font-weight="bold" font-style="italic" stroke="#000" stroke-width="0.4" textLength="107" lengthAdjust="spacingAndGlyphs">Wartburg</text>
<rect x="489" y="1918" width="10" height="10" fill="#000"/>
<rect x="432.5" y="1933.5" width="518" height="30" fill="#c8c9cb" stroke="#b1b2b4" stroke-width="1.4"/>
<text x="553" y="1957" font-size="24" font-weight="bold" textLength="120" lengthAdjust="spacingAndGlyphs">CASTLES</text>
<text x="419" y="1993" font-size="26" font-weight="bold" font-style="italic" stroke="#000" stroke-width="0.4" textLength="120" lengthAdjust="spacingAndGlyphs">Marksburg</text>
<rect x="549" y="1970" width="10" height="10" fill="#000"/>
<rect x="679" y="1970" width="10" height="10" fill="#000"/>
<text x="698" y="1993" font-size="26" font-weight="bold" font-style="italic" stroke="#000" stroke-width="0.4" textLength="105" lengthAdjust="spacingAndGlyphs">Rheinfels</text>
<path d="M460,2006 C460,2012.4 464.2,2013.8000000000002 474,2014.4 L560,2015.6000000000001 C570.5,2016.4 574,2021.4 574,2026 C574,2021.4 577.5,2016.4 588,2015.6000000000001 L678,2014.4 C687.8,2013.8000000000002 692,2012.4 692,2006" fill="none" stroke="#000" stroke-width="3" stroke-linecap="round" stroke-linejoin="round"/>
<text x="492" y="2051" font-size="21" stroke="#000" stroke-width="0.35" textLength="174" lengthAdjust="spacingAndGlyphs">MANY CASTLES</text>
<text x="508" y="2075" font-size="21" stroke="#000" stroke-width="0.35" textLength="142" lengthAdjust="spacingAndGlyphs">BUILT ALONG</text>
<text x="492" y="2099" font-size="21" stroke="#000" stroke-width="0.35" textLength="174" lengthAdjust="spacingAndGlyphs">RHINE &amp; MOSEL</text>
<rect x="935" y="1969" width="10" height="10" fill="#000"/>
<text x="889" y="2003" font-size="26" font-weight="bold" font-style="italic" stroke="#000" stroke-width="0.4" textLength="100" lengthAdjust="spacingAndGlyphs">Burg Eltz</text>
<text x="892" y="2035" font-size="26" font-weight="bold" font-style="italic" stroke="#000" stroke-width="0.4" textLength="94" lengthAdjust="spacingAndGlyphs">Finished</text>
<text x="1667" y="389" font-size="26" fill="#6d6e71" letter-spacing="3" textLength="305" lengthAdjust="spacingAndGlyphs">CHANCELLORS</text>
<text x="1487" y="415" font-size="28.5" stroke="#000" stroke-width="0.55" textLength="139" lengthAdjust="spacingAndGlyphs">Augustus</text>
<text x="1477" y="443" font-size="28.5" stroke="#000" stroke-width="0.55" textLength="157" lengthAdjust="spacingAndGlyphs">the Strong</text>
<line x1="1483" y1="457" x2="1621" y2="457" stroke="#000" stroke-width="1.8"/>
<rect x="1881.5" y="403.5" width="78" height="31" fill="#c8c9cb" stroke="#b1b2b4" stroke-width="1.4"/>
<text x="1821" y="427" font-size="28.5" stroke="#000" stroke-width="0.55" textLength="133" lengthAdjust="spacingAndGlyphs">Bismarck</text>
<rect x="1968.5" y="403.5" width="11" height="31" fill="#c8c9cb" stroke="#b1b2b4" stroke-width="1.4"/>
<rect x="1985.5" y="403.5" width="11" height="31" fill="#c8c9cb" stroke="#b1b2b4" stroke-width="1.4"/>
<rect x="2000.5" y="403.5" width="11" height="31" fill="#c8c9cb" stroke="#b1b2b4" stroke-width="1.4"/>
<rect x="2016.5" y="403.5" width="15" height="31" fill="#c8c9cb" stroke="#b1b2b4" stroke-width="1.4"/>
<rect x="2036.5" y="403.5" width="5" height="31" fill="#c8c9cb" stroke="#b1b2b4" stroke-width="1.4"/>
<rect x="2046.5" y="403.5" width="3" height="31" fill="#c8c9cb" stroke="#b1b2b4" stroke-width="1.4"/>
<rect x="2055.5" y="403.5" width="4" height="31" fill="#c8c9cb" stroke="#b1b2b4" stroke-width="1.4"/>
<rect x="2064.5" y="403.5" width="7" height="31" fill="#c8c9cb" stroke="#b1b2b4" stroke-width="1.4"/>
<rect x="2074.5" y="403.5" width="5" height="31" fill="#c8c9cb" stroke="#b1b2b4" stroke-width="1.4"/>
<rect x="2083.5" y="403.5" width="4" height="31" fill="#c8c9cb" stroke="#b1b2b4" stroke-width="1.4"/>
<rect x="2092.5" y="403.5" width="55" height="31" fill="#c8c9cb" stroke="#b1b2b4" stroke-width="1.4"/>
<rect x="2162.5" y="435.5" width="62" height="31" fill="#c8c9cb" stroke="#b1b2b4" stroke-width="1.4"/>
<rect x="2229.5" y="435.5" width="9" height="31" fill="#c8c9cb" stroke="#b1b2b4" stroke-width="1.4"/>
<rect x="2244.5" y="435.5" width="8" height="31" fill="#c8c9cb" stroke="#b1b2b4" stroke-width="1.4"/>
<rect x="2258.5" y="435.5" width="14" height="31" fill="#c8c9cb" stroke="#b1b2b4" stroke-width="1.4"/>
<rect x="2278.5" y="435.5" width="28" height="31" fill="#c8c9cb" stroke="#b1b2b4" stroke-width="1.4"/>
<rect x="2312.5" y="435.5" width="56" height="31" fill="#c8c9cb" stroke="#b1b2b4" stroke-width="1.4"/>
<rect x="2373.5" y="435.5" width="14" height="31" fill="#c8c9cb" stroke="#b1b2b4" stroke-width="1.4"/>
<rect x="2393.5" y="435.5" width="52" height="31" fill="#c8c9cb" stroke="#b1b2b4" stroke-width="1.4"/>
<rect x="2452.5" y="435.5" width="12" height="31" fill="#c8c9cb" stroke="#b1b2b4" stroke-width="1.4"/>
<path d="M2013,440 C2013,446.71999999999997 2015.6511627906978,448.19 2021.8372093023256,448.82 L2022.1627906976744,450.08 C2028.7906976744187,450.92 2031,456.17 2031,461 C2031,456.17 2033.2093023255813,450.92 2039.8372093023256,450.08 L2042.1627906976744,448.82 C2048.3488372093025,448.19 2051,446.71999999999997 2051,440" fill="none" stroke="#000" stroke-width="1.6" stroke-linecap="round" stroke-linejoin="round"/>
<text x="1881" y="482" font-size="21" stroke="#000" stroke-width="0.35" textLength="184" lengthAdjust="spacingAndGlyphs">PARLIAMENTARY</text>
<text x="1945" y="506" font-size="21" stroke="#000" stroke-width="0.35" textLength="57" lengthAdjust="spacingAndGlyphs">RULE</text>
<text x="2080" y="395" font-size="28.5" stroke="#000" stroke-width="0.55" textLength="83" lengthAdjust="spacingAndGlyphs">Hitler</text>
<text x="2187" y="402" font-size="28.5" stroke="#000" stroke-width="0.55" textLength="101" lengthAdjust="spacingAndGlyphs">Brandt</text>
<line x1="2228" y1="408" x2="2249" y2="433" stroke="#000" stroke-width="1.1"/>
<text x="2312" y="428" font-size="28.5" stroke="#000" stroke-width="0.55" textLength="60" lengthAdjust="spacingAndGlyphs">Kohl</text>
<text x="2381" y="405" font-size="28.5" stroke="#000" stroke-width="0.55" textLength="95" lengthAdjust="spacingAndGlyphs">Scholz</text>
<line x1="2438" y1="411" x2="2459" y2="438" stroke="#000" stroke-width="1.1"/>
<text x="2100" y="504" font-size="28.5" stroke="#000" stroke-width="0.55" textLength="135" lengthAdjust="spacingAndGlyphs">Adenauer</text>
<line x1="2177" y1="483" x2="2202" y2="462" stroke="#000" stroke-width="1.1"/>
<text x="2253" y="533" font-size="28.5" stroke="#000" stroke-width="0.55" textLength="120" lengthAdjust="spacingAndGlyphs">Schmidt</text>
<line x1="2293" y1="459" x2="2306" y2="515" stroke="#000" stroke-width="1.1"/>
<text x="2356" y="502" font-size="28.5" stroke="#000" stroke-width="0.55" textLength="94" lengthAdjust="spacingAndGlyphs">Merkel</text>
<line x1="2417" y1="459" x2="2431" y2="480" stroke="#000" stroke-width="1.1"/>
<text x="1583" y="498" font-size="28.5" stroke="#000" stroke-width="0.55" textLength="134" lengthAdjust="spacingAndGlyphs">Frederick</text>
<text x="1578" y="527" font-size="28.5" stroke="#000" stroke-width="0.55" textLength="143" lengthAdjust="spacingAndGlyphs">the Great</text>
<line x1="1579" y1="538" x2="1720" y2="538" stroke="#000" stroke-width="1.8"/>
<text x="1917" y="561" font-size="28.5" stroke="#000" stroke-width="0.55" textLength="160" lengthAdjust="spacingAndGlyphs">Hindenburg</text>
<line x1="1869" y1="571" x2="2118" y2="571" stroke="#000" stroke-width="1.8"/>
<text x="1517" y="584" font-size="21" stroke="#000" stroke-width="0.35" textLength="103" lengthAdjust="spacingAndGlyphs">LOUIS 14</text>
<text x="1519" y="608" font-size="21" stroke="#000" stroke-width="0.35" textLength="98" lengthAdjust="spacingAndGlyphs">INVADES</text>
<rect x="1502" y="592" width="10" height="10" fill="#000"/>
<text x="1658" y="584" font-size="21" stroke="#000" stroke-width="0.35" textLength="125" lengthAdjust="spacingAndGlyphs">CONGRESS</text>
<text x="1662" y="608" font-size="21" stroke="#000" stroke-width="0.35" textLength="117" lengthAdjust="spacingAndGlyphs">OF VIENNA</text>
<rect x="1787" y="592" width="10" height="10" fill="#000"/>
<text x="1827" y="607" font-size="28.5" stroke="#000" stroke-width="0.55" textLength="133" lengthAdjust="spacingAndGlyphs">Bismarck</text>
<line x1="1826" y1="613" x2="1954" y2="613" stroke="#000" stroke-width="1.8"/>
<text x="1651" y="651" font-size="21" stroke="#000" stroke-width="0.35" textLength="119" lengthAdjust="spacingAndGlyphs">WATERLOO</text>
<rect x="1774" y="639" width="10" height="10" fill="#000"/>
<text x="1864" y="647" font-size="28.5" stroke="#000" stroke-width="0.55" textLength="209" lengthAdjust="spacingAndGlyphs">Kaiser Wilhelm</text>
<line x1="1920" y1="658" x2="2029" y2="658" stroke="#000" stroke-width="1.8"/>
<text x="2238" y="617" font-size="28.5" stroke="#000" stroke-width="0.55" textLength="131" lengthAdjust="spacingAndGlyphs">Honecker</text>
<path d="M2253,643 C2253,636.6 2257.2,635.2 2267,634.6 L2281,633.4 C2291.5,632.6 2295,627.6 2295,623 C2295,627.6 2298.5,632.6 2309,633.4 L2321,634.6 C2330.8,635.2 2335,636.6 2335,643" fill="none" stroke="#000" stroke-width="2.4" stroke-linecap="round" stroke-linejoin="round"/>
<rect x="2149.5" y="648.5" width="183" height="27" fill="#c8c9cb" stroke="#b1b2b4" stroke-width="1.4"/>
<text x="2218" y="673" font-size="26" font-weight="bold" textLength="54" lengthAdjust="spacingAndGlyphs">DDR</text>
<text x="2166" y="702" font-size="26" font-weight="bold" textLength="165" lengthAdjust="spacingAndGlyphs">(EAST GER.)</text>
<text x="1425" y="657" font-size="21" stroke="#000" stroke-width="0.35" textLength="120" lengthAdjust="spacingAndGlyphs">TREATY OF</text>
<text x="1414" y="681" font-size="21" stroke="#000" stroke-width="0.35" textLength="144" lengthAdjust="spacingAndGlyphs">WESTPHALIA</text>
<rect x="1439" y="688" width="10" height="10" fill="#000"/>
<rect x="1403.5" y="700.5" width="150" height="41" fill="#c8c9cb" stroke="#b1b2b4" stroke-width="1.4"/>
<text x="1416" y="731" font-size="25" font-weight="bold" textLength="163" lengthAdjust="spacingAndGlyphs">STRUGGLES</text>
<rect x="1557.5" y="744.5" width="195" height="41" fill="#c8c9cb" stroke="#b1b2b4" stroke-width="1.4"/>
<text x="1592" y="753" font-size="24" font-weight="bold" textLength="135" lengthAdjust="spacingAndGlyphs">AUSTRIA /</text>
<text x="1601" y="779" font-size="24" font-weight="bold" textLength="120" lengthAdjust="spacingAndGlyphs">PRUSSIA</text>
<text x="1768" y="693" font-size="21" stroke="#000" stroke-width="0.35" textLength="100" lengthAdjust="spacingAndGlyphs">FRANCO-</text>
<text x="1761" y="717" font-size="21" stroke="#000" stroke-width="0.35" textLength="115" lengthAdjust="spacingAndGlyphs">PRUSSIAN</text>
<rect x="1884" y="706" width="10" height="10" fill="#000"/>
<text x="1794" y="741" font-size="21" stroke="#000" stroke-width="0.35" textLength="49" lengthAdjust="spacingAndGlyphs">WAR</text>
<text x="2003" y="697" font-size="28.5" stroke="#000" stroke-width="0.55" textLength="83" lengthAdjust="spacingAndGlyphs">Hitler</text>
<line x1="1945" y1="704" x2="2147" y2="704" stroke="#000" stroke-width="1.8"/>
<text x="1893" y="738" font-size="24" font-weight="bold" textLength="116" lengthAdjust="spacingAndGlyphs">GERMAN</text>
<text x="1868" y="767" font-size="24" font-weight="bold" textLength="166" lengthAdjust="spacingAndGlyphs">UNIFICATION</text>
<text x="1920" y="790" font-size="23" stroke="#000" stroke-width="0.35" textLength="62" lengthAdjust="spacingAndGlyphs">1871</text>
<rect x="1902" y="783" width="10" height="10" fill="#000"/>
<text x="1546" y="813" font-size="21" stroke="#000" stroke-width="0.35" textLength="83" lengthAdjust="spacingAndGlyphs">WAR OF</text>
<rect x="1633" y="792" width="10" height="10" fill="#000"/>
<text x="1531" y="837" font-size="21" stroke="#000" stroke-width="0.35" textLength="114" lengthAdjust="spacingAndGlyphs">AUSTRIAN</text>
<text x="1515" y="861" font-size="21" stroke="#000" stroke-width="0.35" textLength="145" lengthAdjust="spacingAndGlyphs">SUCCESSION</text>
<rect x="1752.5" y="790.5" width="159" height="40" fill="#c8c9cb" stroke="#b1b2b4" stroke-width="1.4"/>
<text x="1688" y="822" font-size="31" font-weight="bold" textLength="214" lengthAdjust="spacingAndGlyphs">UNIFICATION</text>
<rect x="1774" y="837" width="10" height="10" fill="#000"/>
<text x="1727" y="868" font-size="21" stroke="#000" stroke-width="0.35" textLength="93" lengthAdjust="spacingAndGlyphs">CONFED.</text>
<text x="1722" y="892" font-size="21" stroke="#000" stroke-width="0.35" textLength="102" lengthAdjust="spacingAndGlyphs">OF RHINE</text>
<rect x="1914.5" y="834.5" width="198" height="41" fill="#c8c9cb" stroke="#b1b2b4" stroke-width="1.4"/>
<text x="1972" y="842" font-size="24" font-weight="bold" textLength="79" lengthAdjust="spacingAndGlyphs">WWI &amp;</text>
<text x="1919" y="870" font-size="24" font-weight="bold" textLength="190" lengthAdjust="spacingAndGlyphs">HITLER’S RISE</text>
<line x1="2082" y1="776" x2="2018" y2="821" stroke="#000" stroke-width="1.1"/>
<path d="M1916,882 C1916,888.4 1920.2,889.8 1930,890.4 L1946,891.6 C1956.5,892.4 1960,897.4 1960,902 C1960,897.4 1963.5,892.4 1974,891.6 L1990,890.4 C1999.8,889.8 2004,888.4 2004,882" fill="none" stroke="#000" stroke-width="2.4" stroke-linecap="round" stroke-linejoin="round"/>
<path d="M2012,882 C2012,888.4 2014.6511627906978,889.8 2020.8372093023256,890.4 L2022.1627906976744,891.6 C2028.7906976744187,892.4 2031,897.4 2031,902 C2031,897.4 2033.2093023255813,892.4 2039.8372093023256,891.6 L2041.1627906976744,890.4 C2047.3488372093022,889.8 2050,888.4 2050,882" fill="none" stroke="#000" stroke-width="1.6" stroke-linecap="round" stroke-linejoin="round"/>
<text x="1935" y="921.5" font-size="21" stroke="#000" stroke-width="0.35" textLength="45" lengthAdjust="spacingAndGlyphs">2ND</text>
<text x="1925" y="945.5" font-size="21" stroke="#000" stroke-width="0.35" textLength="65" lengthAdjust="spacingAndGlyphs">REICH</text>
<text x="2001" y="920.5" font-size="21" stroke="#000" stroke-width="0.35" textLength="92" lengthAdjust="spacingAndGlyphs">WEIMAR</text>
<text x="2023" y="944" font-size="21" stroke="#000" stroke-width="0.35" textLength="45" lengthAdjust="spacingAndGlyphs">REP.</text>
<text x="2095" y="758" font-size="21" stroke="#000" stroke-width="0.35" textLength="120" lengthAdjust="spacingAndGlyphs">TREATY OF</text>
<text x="2086" y="782" font-size="21" stroke="#000" stroke-width="0.35" textLength="137" lengthAdjust="spacingAndGlyphs">VERSAILLES</text>
<text x="2153" y="839" font-size="21" stroke="#000" stroke-width="0.35" textLength="134" lengthAdjust="spacingAndGlyphs">HOLOCAUST</text>
<line x1="2181" y1="843" x2="2144" y2="867" stroke="#000" stroke-width="1.1"/>
<rect x="2132" y="862" width="10" height="10" fill="#000"/>
<rect x="2117.5" y="877.5" width="24" height="40" fill="#c8c9cb" stroke="#b1b2b4" stroke-width="1.4"/>
<text x="2097" y="902" font-size="24" font-weight="bold" textLength="63" lengthAdjust="spacingAndGlyphs">WWII</text>
<text x="2186" y="886" font-size="21" stroke="#000" stroke-width="0.35" textLength="79" lengthAdjust="spacingAndGlyphs">BERLIN</text>
<text x="2198" y="910" font-size="21" stroke="#000" stroke-width="0.35" textLength="56" lengthAdjust="spacingAndGlyphs">WALL</text>
<rect x="2183" y="906" width="10" height="10" fill="#000"/>
<text x="2313" y="855" font-size="21" stroke="#000" stroke-width="0.35" textLength="144" lengthAdjust="spacingAndGlyphs">BERLIN WALL</text>
<text x="2354" y="879" font-size="21" stroke="#000" stroke-width="0.35" textLength="67" lengthAdjust="spacingAndGlyphs">FALLS</text>
<line x1="2343" y1="865" x2="2314" y2="899" stroke="#000" stroke-width="1.1"/>
<rect x="2309" y="903" width="10" height="10" fill="#000"/>
<rect x="2144.5" y="918.5" width="177" height="37" fill="#c8c9cb" stroke="#b1b2b4" stroke-width="1.4"/>
<text x="2148" y="946" font-size="30" font-weight="bold" textLength="175" lengthAdjust="spacingAndGlyphs">COLD WAR</text>
<text x="2335" y="924" font-size="21" stroke="#000" stroke-width="0.35" textLength="138" lengthAdjust="spacingAndGlyphs">UNIFICATION</text>
<text x="2399" y="947" font-size="21" stroke="#000" stroke-width="0.35" textLength="10" lengthAdjust="spacingAndGlyphs">II</text>
<line x1="2357" y1="932" x2="2333" y2="952" stroke="#000" stroke-width="1.1"/>
<rect x="2318" y="952" width="10" height="10" fill="#000"/>
<rect x="2324.5" y="958.5" width="140" height="38" fill="#c8c9cb" stroke="#b1b2b4" stroke-width="1.4"/>
<text x="2328" y="989" font-size="31" font-weight="bold" textLength="111" lengthAdjust="spacingAndGlyphs">TODAY</text>
<rect x="2147" y="959" width="10" height="10" fill="#000"/>
<rect x="2176" y="959" width="10" height="10" fill="#000"/>
<text x="2023" y="982" font-size="21" stroke="#000" stroke-width="0.35" textLength="123" lengthAdjust="spacingAndGlyphs">MARSHALL</text>
<text x="2057" y="1006" font-size="21" stroke="#000" stroke-width="0.35" textLength="55" lengthAdjust="spacingAndGlyphs">PLAN</text>
<text x="2190" y="982" font-size="21" stroke="#000" stroke-width="0.35" textLength="79" lengthAdjust="spacingAndGlyphs">BERLIN</text>
<text x="2188" y="1006" font-size="21" stroke="#000" stroke-width="0.35" textLength="83" lengthAdjust="spacingAndGlyphs">AIRLIFT</text>
<rect x="1994.5" y="1016.5" width="24" height="40" fill="#c8c9cb" stroke="#b1b2b4" stroke-width="1.4"/>
<text x="2001" y="1043" font-size="24" font-weight="bold" textLength="54" lengthAdjust="spacingAndGlyphs">WWI</text>
<rect x="2117.5" y="1017.5" width="24" height="40" fill="#c8c9cb" stroke="#b1b2b4" stroke-width="1.4"/>
<text x="2086" y="1047" font-size="24" font-weight="bold" textLength="62" lengthAdjust="spacingAndGlyphs">WWII</text>
<text x="2190" y="1052" font-size="21" stroke="#000" stroke-width="0.35" textLength="67" lengthAdjust="spacingAndGlyphs">JOINS</text>
<text x="2210" y="1075" font-size="21" stroke="#000" stroke-width="0.35" textLength="27" lengthAdjust="spacingAndGlyphs">EC</text>
<rect x="2219" y="1080" width="10" height="10" fill="#000"/>
<text x="2302" y="1051" font-size="21" stroke="#000" stroke-width="0.35" textLength="51" lengthAdjust="spacingAndGlyphs">EU &amp;</text>
<text x="2299" y="1074" font-size="21" stroke="#000" stroke-width="0.35" textLength="60" lengthAdjust="spacingAndGlyphs">EURO</text>
<rect x="2324" y="1080" width="10" height="10" fill="#000"/>
<text x="2384" y="1051" font-size="21" stroke="#000" stroke-width="0.35" textLength="66" lengthAdjust="spacingAndGlyphs">COVID</text>
<rect x="2446" y="1053" width="10" height="10" fill="#000"/>
<rect x="2390" y="1089" width="10" height="10" fill="#000"/>
<text x="2357" y="1122" font-size="21" stroke="#000" stroke-width="0.35" textLength="86" lengthAdjust="spacingAndGlyphs">GLOBAL</text>
<text x="2335" y="1146" font-size="21" stroke="#000" stroke-width="0.35" textLength="128" lengthAdjust="spacingAndGlyphs">RECESSION</text>
<text x="2298" y="1181" font-size="21" stroke="#000" stroke-width="0.35" textLength="109" lengthAdjust="spacingAndGlyphs">WINS 4TH</text>
<rect x="2412" y="1168" width="10" height="10" fill="#000"/>
<text x="2292" y="1205" font-size="21" stroke="#000" stroke-width="0.35" textLength="127" lengthAdjust="spacingAndGlyphs">WORLD CUP</text>
<text x="1674" y="934" font-size="28.5" stroke="#000" stroke-width="0.55" textLength="130" lengthAdjust="spacingAndGlyphs">Napoleon</text>
<line x1="1687" y1="946" x2="1802" y2="946" stroke="#000" stroke-width="1.8"/>
<text x="1586" y="983" font-size="21" stroke="#000" stroke-width="0.35" textLength="144" lengthAdjust="spacingAndGlyphs">FRENCH REV.</text>
<rect x="1737" y="972" width="10" height="10" fill="#000"/>
<text x="1550" y="1017" font-size="21" stroke="#000" stroke-width="0.35" textLength="173" lengthAdjust="spacingAndGlyphs">AMERICAN REV.</text>
<rect x="1730" y="1006" width="10" height="10" fill="#000"/>
<text x="1803" y="996" font-size="28.5" stroke="#000" stroke-width="0.55" textLength="71" lengthAdjust="spacingAndGlyphs">Marx</text>
<line x1="1780" y1="1006" x2="1903" y2="1006" stroke="#000" stroke-width="1.8"/>
<text x="1727" y="1078" font-size="28" stroke="#000" stroke-width="0.55" textLength="81" lengthAdjust="spacingAndGlyphs">Max. I</text>
<path d="M1765,1104 C1765,1097.28 1767.860465116279,1095.8100000000002 1774.5348837209303,1095.18 L1776.4651162790697,1093.92 C1783.6162790697674,1093.0800000000002 1786,1087.8300000000002 1786,1083 C1786,1087.8300000000002 1788.3837209302326,1093.0800000000002 1795.5348837209303,1093.92 L1796.4651162790697,1095.18 C1803.139534883721,1095.8100000000002 1806,1097.28 1806,1104" fill="none" stroke="#000" stroke-width="1.6" stroke-linecap="round" stroke-linejoin="round"/>
<text x="1837" y="1079" font-size="28" stroke="#000" stroke-width="0.55" textLength="121" lengthAdjust="spacingAndGlyphs">Ludwig II</text>
<path d="M1869,1104 C1869,1097.28 1871.4418604651162,1095.8100000000002 1877.139534883721,1095.18 L1878.860465116279,1093.92 C1884.9651162790697,1093.0800000000002 1887,1087.8300000000002 1887,1083 C1887,1087.8300000000002 1889.0348837209303,1093.0800000000002 1895.139534883721,1093.92 L1895.860465116279,1095.18 C1901.5581395348838,1095.8100000000002 1904,1097.28 1904,1104" fill="none" stroke="#000" stroke-width="1.6" stroke-linecap="round" stroke-linejoin="round"/>
<rect x="1403.5" y="1108.5" width="366" height="27" fill="#c8c9cb" stroke="#b1b2b4" stroke-width="1.4"/>
<rect x="1776.5" y="1108.5" width="235" height="27" fill="#c8c9cb" stroke="#b1b2b4" stroke-width="1.4"/>
<text x="1781" y="1129" font-size="21" stroke="#000" stroke-width="0.35" textLength="227" lengthAdjust="spacingAndGlyphs">BAVARIAN KINGDOM</text>
<rect x="1779" y="1139" width="10" height="10" fill="#000"/>
<text x="1793" y="1162" font-size="21" stroke="#000" stroke-width="0.35" textLength="155" lengthAdjust="spacingAndGlyphs">1ST OKT’FEST</text>
<rect x="1995" y="1160" width="10" height="10" fill="#000"/>
<text x="2013" y="1162" font-size="21" stroke="#000" stroke-width="0.35" textLength="77" lengthAdjust="spacingAndGlyphs">GUMMI</text>
<text x="2013" y="1187" font-size="21" stroke="#000" stroke-width="0.35" textLength="77" lengthAdjust="spacingAndGlyphs">BEARS</text>
<rect x="1403.5" y="1197.5" width="157" height="26" fill="#c8c9cb" stroke="#b1b2b4" stroke-width="1.4"/>
<text x="1422" y="1218" font-size="24" font-weight="bold" textLength="120" lengthAdjust="spacingAndGlyphs">PRUSSIA</text>
<rect x="1564.5" y="1197.5" width="445" height="26" fill="#c8c9cb" stroke="#b1b2b4" stroke-width="1.4"/>
<text x="1645" y="1218" font-size="21" stroke="#000" stroke-width="0.35" textLength="228" lengthAdjust="spacingAndGlyphs">PRUSSIAN KINGDOM</text>
<rect x="1403.5" y="1261.5" width="366" height="28" fill="#c8c9cb" stroke="#b1b2b4" stroke-width="1.4"/>
<text x="1443" y="1283" font-size="24" font-weight="bold" textLength="101" lengthAdjust="spacingAndGlyphs">EMPIRE</text>
<rect x="1774.5" y="1261.5" width="104" height="28" fill="#c8c9cb" stroke="#b1b2b4" stroke-width="1.4"/>
<text x="1761" y="1283" font-size="21" stroke="#000" stroke-width="0.35" textLength="113" lengthAdjust="spacingAndGlyphs">AUSTRIAN</text>
<text x="1776" y="1312" font-size="21" stroke="#000" stroke-width="0.35" textLength="84" lengthAdjust="spacingAndGlyphs">EMPIRE</text>
<rect x="1886.5" y="1261.5" width="125" height="28" fill="#c8c9cb" stroke="#b1b2b4" stroke-width="1.4"/>
<text x="1894" y="1284" font-size="21" stroke="#000" stroke-width="0.35" textLength="173" lengthAdjust="spacingAndGlyphs">AUSTRO-HUNG.</text>
<text x="1938" y="1313" font-size="21" stroke="#000" stroke-width="0.35" textLength="84" lengthAdjust="spacingAndGlyphs">EMPIRE</text>
<rect x="1988" y="1248" width="10" height="10" fill="#000"/>
<line x1="2006" y1="1253" x2="2048" y2="1237" stroke="#000" stroke-width="1.1"/>
<text x="2053" y="1247" font-size="21" stroke="#000" stroke-width="0.35" textLength="145" lengthAdjust="spacingAndGlyphs">FRANZ FERD.</text>
<text x="2099" y="1271" font-size="21" stroke="#000" stroke-width="0.35" textLength="60" lengthAdjust="spacingAndGlyphs">SHOT</text>
<text x="2266" y="1288" font-size="28.5" stroke="#000" stroke-width="0.55" textLength="101" lengthAdjust="spacingAndGlyphs">Steves</text>
<line x1="2194" y1="1298" x2="2465" y2="1298" stroke="#000" stroke-width="1.8"/>
<rect x="1629.5" y="1337.5" width="249" height="29" fill="#c8c9cb" stroke="#b1b2b4" stroke-width="1.4"/>
<text x="1639" y="1361" font-size="24" font-weight="bold" textLength="232" lengthAdjust="spacingAndGlyphs">INDUSTRIAL  REV.</text>
<rect x="1403.5" y="1359.5" width="47" height="26" fill="#c8c9cb" stroke="#b1b2b4" stroke-width="1.4"/>
<text x="1951" y="1366" font-size="21" stroke="#000" stroke-width="0.35" textLength="87" lengthAdjust="spacingAndGlyphs">CUBISM</text>
<line x1="1943" y1="1374" x2="2309" y2="1374" stroke="#000" stroke-width="1.8"/>
<text x="2146" y="1365" font-size="28.5" stroke="#000" stroke-width="0.55" textLength="107" lengthAdjust="spacingAndGlyphs">Picasso</text>
<text x="1838" y="1427" font-size="28.5" stroke="#000" stroke-width="0.55" textLength="145" lengthAdjust="spacingAndGlyphs">Nietzsche</text>
<line x1="1848" y1="1436" x2="1967" y2="1436" stroke="#000" stroke-width="1.8"/>
<text x="1704" y="1445" font-size="28.5" stroke="#000" stroke-width="0.55" textLength="104" lengthAdjust="spacingAndGlyphs">Goethe</text>
<line x1="1643" y1="1454" x2="1846" y2="1454" stroke="#000" stroke-width="1.8"/>
<text x="1698" y="1485" font-size="28.5" stroke="#000" stroke-width="0.55" textLength="67" lengthAdjust="spacingAndGlyphs">Kant</text>
<line x1="1676" y1="1491" x2="1782" y2="1491" stroke="#000" stroke-width="1.8"/>
<text x="1809" y="1494" font-size="28.5" stroke="#000" stroke-width="0.55" textLength="104" lengthAdjust="spacingAndGlyphs">Wagner</text>
<line x1="1791" y1="1506" x2="1930" y2="1506" stroke="#000" stroke-width="1.8"/>
<text x="1987" y="1512" font-size="28.5" stroke="#000" stroke-width="0.55" textLength="75" lengthAdjust="spacingAndGlyphs">Mann</text>
<line x1="1913" y1="1516" x2="2222" y2="1516" stroke="#000" stroke-width="1.8"/>
<text x="2095" y="1445" font-size="28.5" stroke="#000" stroke-width="0.55" textLength="115" lengthAdjust="spacingAndGlyphs">Dietrich</text>
<line x1="1958" y1="1455" x2="2329" y2="1455" stroke="#000" stroke-width="1.8"/>
<text x="2235" y="1486" font-size="28.5" stroke="#000" stroke-width="0.55" textLength="123" lengthAdjust="spacingAndGlyphs">Wenders</text>
<line x1="2149" y1="1495" x2="2465" y2="1495" stroke="#000" stroke-width="1.8"/>
<text x="1555" y="1543" font-size="28.5" stroke="#000" stroke-width="0.55" textLength="68" lengthAdjust="spacingAndGlyphs">Bach</text>
<line x1="1513" y1="1552" x2="1658" y2="1552" stroke="#000" stroke-width="1.8"/>
<text x="1689" y="1549" font-size="28.5" stroke="#000" stroke-width="0.55" textLength="151" lengthAdjust="spacingAndGlyphs">Beethoven</text>
<line x1="1706" y1="1554" x2="1802" y2="1554" stroke="#000" stroke-width="1.8"/>
<text x="1726" y="1582" font-size="26" font-weight="bold" font-style="italic" stroke="#000" stroke-width="0.4" textLength="36" lengthAdjust="spacingAndGlyphs">5th</text>
<rect x="1767" y="1561" width="10" height="10" fill="#000"/>
<text x="1687" y="1611" font-size="26" font-weight="bold" font-style="italic" stroke="#000" stroke-width="0.4" textLength="115" lengthAdjust="spacingAndGlyphs">Symphony</text>
<text x="2133" y="1548" font-size="28.5" stroke="#000" stroke-width="0.55" textLength="87" lengthAdjust="spacingAndGlyphs">Beuys</text>
<line x1="2050" y1="1559" x2="2321" y2="1559" stroke="#000" stroke-width="1.8"/>
<text x="2007" y="1591" font-size="28.5" stroke="#000" stroke-width="0.55" textLength="144" lengthAdjust="spacingAndGlyphs">Beckmann</text>
<line x1="1954" y1="1597" x2="2203" y2="1597" stroke="#000" stroke-width="1.8"/>
<text x="2004" y="1637" font-size="28.5" stroke="#000" stroke-width="0.55" textLength="114" lengthAdjust="spacingAndGlyphs">Kollwitz</text>
<line x1="1911" y1="1645" x2="2170" y2="1645" stroke="#000" stroke-width="1.8"/>
<text x="2044" y="1678" font-size="28.5" stroke="#000" stroke-width="0.55" textLength="119" lengthAdjust="spacingAndGlyphs">Kirchner</text>
<line x1="1947" y1="1685" x2="2288" y2="1685" stroke="#000" stroke-width="1.8"/>
<text x="1706" y="1655" font-size="28.5" stroke="#000" stroke-width="0.55" textLength="128" lengthAdjust="spacingAndGlyphs">Friedrich</text>
<line x1="1700" y1="1665" x2="1839" y2="1665" stroke="#000" stroke-width="1.8"/>
<text x="1509" y="1684" font-size="26" font-weight="bold" font-style="italic" stroke="#000" stroke-width="0.4" textLength="99" lengthAdjust="spacingAndGlyphs">Residenz</text>
<text x="1505" y="1717" font-size="26" font-weight="bold" font-style="italic" stroke="#000" stroke-width="0.4" textLength="108" lengthAdjust="spacingAndGlyphs">Würzburg</text>
<rect x="1620" y="1719" width="10" height="10" fill="#000"/>
<rect x="1639" y="1719" width="10" height="10" fill="#000"/>
<text x="1640" y="1706" font-size="26" font-weight="bold" font-style="italic" stroke="#000" stroke-width="0.4" textLength="120" lengthAdjust="spacingAndGlyphs">Wieskirche</text>
<rect x="1403.5" y="1688.5" width="45" height="40" fill="#c8c9cb" stroke="#b1b2b4" stroke-width="1.4"/>
<rect x="1451.5" y="1734.5" width="211" height="38" fill="#c8c9cb" stroke="#b1b2b4" stroke-width="1.4"/>
<text x="1473" y="1764" font-size="32" font-weight="bold" textLength="167" lengthAdjust="spacingAndGlyphs">BAROQUE</text>
<text x="1706" y="1740" font-size="26" font-weight="bold" font-style="italic" stroke="#000" stroke-width="0.4" textLength="147" lengthAdjust="spacingAndGlyphs">Brandenburg</text>
<text x="1754" y="1772" font-size="26" font-weight="bold" font-style="italic" stroke="#000" stroke-width="0.4" textLength="51" lengthAdjust="spacingAndGlyphs">Gate</text>
<rect x="1736" y="1763" width="10" height="10" fill="#000"/>
<rect x="1625" y="1776" width="10" height="10" fill="#000"/>
<text x="1522" y="1812" font-size="26" font-weight="bold" font-style="italic" stroke="#000" stroke-width="0.4" textLength="109" lengthAdjust="spacingAndGlyphs">Sanssouci</text>
<rect x="1665.5" y="1778.5" width="296" height="38" fill="#c8c9cb" stroke="#b1b2b4" stroke-width="1.4"/>
<text x="1677" y="1808" font-size="32" font-weight="bold" textLength="263" lengthAdjust="spacingAndGlyphs">NEOCLASSICAL</text>
<text x="2008" y="1722" font-size="21" stroke="#000" stroke-width="0.35" textLength="96" lengthAdjust="spacingAndGlyphs">EXPRES-</text>
<text x="2008" y="1747" font-size="21" stroke="#000" stroke-width="0.35" textLength="96" lengthAdjust="spacingAndGlyphs">SIONISM</text>
<rect x="1991" y="1740" width="10" height="10" fill="#000"/>
<rect x="1970.5" y="1754.5" width="199" height="40" fill="#c8c9cb" stroke="#b1b2b4" stroke-width="1.4"/>
<text x="1976" y="1786" font-size="32" font-weight="bold" textLength="223" lengthAdjust="spacingAndGlyphs">MODERN ART</text>
<text x="2242" y="1754" font-size="26" font-weight="bold" font-style="italic" stroke="#000" stroke-width="0.4" textLength="122" lengthAdjust="spacingAndGlyphs">Berlin Wall</text>
<text x="2265" y="1787" font-size="26" font-weight="bold" font-style="italic" stroke="#000" stroke-width="0.4" textLength="78" lengthAdjust="spacingAndGlyphs">Graffiti</text>
<rect x="2169.5" y="1799.5" width="207" height="40" fill="#c8c9cb" stroke="#b1b2b4" stroke-width="1.4"/>
<text x="2190" y="1832" font-size="32" font-weight="bold" textLength="169" lengthAdjust="spacingAndGlyphs">POSTWAR</text>
<line x1="2257" y1="1776" x2="2230" y2="1807" stroke="#000" stroke-width="1.1"/>
<rect x="2378.5" y="1842.5" width="85" height="37" fill="#c8c9cb" stroke="#b1b2b4" stroke-width="1.4"/>
<text x="2382" y="1872" font-size="24" font-weight="bold" textLength="105" lengthAdjust="spacingAndGlyphs">21ST C.</text>
<text x="1730" y="1849" font-size="28.5" stroke="#000" stroke-width="0.55" textLength="118" lengthAdjust="spacingAndGlyphs">Schinkel</text>
<line x1="1733" y1="1858" x2="1851" y2="1858" stroke="#000" stroke-width="1.8"/>
<rect x="1946.5" y="1824.5" width="54" height="40" fill="#c8c9cb" stroke="#b1b2b4" stroke-width="1.4"/>
<text x="1887" y="1854" font-size="24" font-weight="bold" textLength="168" lengthAdjust="spacingAndGlyphs">JUGENDSTIL</text>
<path d="M1549,1834 C1549,1841.04 1553.2,1842.58 1563,1843.24 L1589,1844.56 C1599.5,1845.44 1603,1850.94 1603,1856 C1603,1850.94 1606.5,1845.44 1617,1844.56 L1643,1843.24 C1652.8,1842.58 1657,1841.04 1657,1834" fill="none" stroke="#000" stroke-width="2.6" stroke-linecap="round" stroke-linejoin="round"/>
<text x="1553" y="1881" font-size="22" font-weight="bold" textLength="108" lengthAdjust="spacingAndGlyphs">ROCOCO</text>
<rect x="1755.5" y="1900.5" width="205" height="41" fill="#c8c9cb" stroke="#b1b2b4" stroke-width="1.4"/>
<text x="1709" y="1930" font-size="32" font-weight="bold" textLength="247" lengthAdjust="spacingAndGlyphs">ROMANTICISM</text>
<rect x="1905" y="1945" width="10" height="10" fill="#000"/>
<text x="1754" y="1977" font-size="26" font-weight="bold" font-style="italic" stroke="#000" stroke-width="0.4" textLength="182" lengthAdjust="spacingAndGlyphs">Neuschwanstein</text>
<text x="1963" y="2002" font-size="26" font-weight="bold" font-style="italic" stroke="#000" stroke-width="0.4" textLength="96" lengthAdjust="spacingAndGlyphs">Bauhaus</text>
<rect x="2067" y="2002" width="10" height="10" fill="#000"/>
<text x="2078" y="1986" font-size="21" stroke="#000" stroke-width="0.35" textLength="94" lengthAdjust="spacingAndGlyphs">FASCIST</text>
<path d="M2083,2011 C2083,2004.6 2087.2,2003.1999999999998 2097,2002.6 L2106,2001.3999999999999 C2116.5,2000.6 2120,1995.6 2120,1991 C2120,1995.6 2123.5,2000.6 2134,2001.3999999999999 L2143,2002.6 C2152.8,2003.1999999999998 2157,2004.6 2157,2011" fill="none" stroke="#000" stroke-width="2.2" stroke-linecap="round" stroke-linejoin="round"/>
<text x="2253" y="1940" font-size="28.5" stroke="#000" stroke-width="0.55" textLength="66" lengthAdjust="spacingAndGlyphs">Jahn</text>
<line x1="2141" y1="1952" x2="2438" y2="1952" stroke="#000" stroke-width="1.8"/>
<text x="2296" y="1999" font-size="26" font-weight="bold" font-style="italic" stroke="#000" stroke-width="0.4" textLength="121" lengthAdjust="spacingAndGlyphs">Messeturm</text>
<line x1="2338" y1="2004" x2="2346" y2="2041" stroke="#000" stroke-width="1.1"/>
<rect x="2341" y="2043" width="10" height="10" fill="#000"/>
<rect x="1756.5" y="2014.5" width="210" height="39" fill="#c8c9cb" stroke="#b1b2b4" stroke-width="1.4"/>
<text x="1775" y="2047" font-size="32" font-weight="bold" textLength="166" lengthAdjust="spacingAndGlyphs">REVIVALS</text>
<text x="1774" y="2084" font-size="32" font-weight="bold" textLength="176" lengthAdjust="spacingAndGlyphs">&amp; IND.AGE</text>
<rect x="1993.5" y="2015.5" width="284" height="41" fill="#c8c9cb" stroke="#b1b2b4" stroke-width="1.4"/>
<text x="2026" y="2048" font-size="32" font-weight="bold" textLength="213" lengthAdjust="spacingAndGlyphs">MODERNISM</text>
<rect x="2279.5" y="2057.5" width="97" height="38" fill="#c8c9cb" stroke="#b1b2b4" stroke-width="1.4"/>
<text x="2193" y="2087" font-size="32" font-weight="bold" textLength="179" lengthAdjust="spacingAndGlyphs">POSTMOD.</text>
<rect x="2380.5" y="2098.5" width="83" height="37" fill="#c8c9cb" stroke="#b1b2b4" stroke-width="1.4"/>
<text x="2387" y="2121" font-size="24" font-weight="bold" textLength="106" lengthAdjust="spacingAndGlyphs">21ST C.</text>
<text x="1977" y="2089" font-size="28.5" stroke="#000" stroke-width="0.55" textLength="111" lengthAdjust="spacingAndGlyphs">Gropius</text>
<line x1="1912" y1="2104" x2="2224" y2="2104" stroke="#000" stroke-width="1.8"/>
<text x="1977" y="2143" font-size="28.5" stroke="#000" stroke-width="0.55" textLength="258" lengthAdjust="spacingAndGlyphs">Mies van der Rohe</text>
<line x1="1943" y1="2149" x2="2248" y2="2149" stroke="#000" stroke-width="1.8"/>
<text x="2297" y="2129" font-size="26" font-weight="bold" font-style="italic" stroke="#000" stroke-width="0.4" textLength="46" lengthAdjust="spacingAndGlyphs">New</text>
<text x="2266" y="2161" font-size="26" font-weight="bold" font-style="italic" stroke="#000" stroke-width="0.4" textLength="107" lengthAdjust="spacingAndGlyphs">Reichstag</text>
<rect x="2380" y="2138" width="10" height="10" fill="#000"/>
<text x="1547" y="2100" font-size="28.5" stroke="#000" stroke-width="0.55" textLength="127" lengthAdjust="spacingAndGlyphs">Neumann</text>
<line x1="1537" y1="2110" x2="1683" y2="2110" stroke="#000" stroke-width="1.8"/>
<g stroke="#000" stroke-linejoin="round" stroke-linecap="round"><path d="M1011.5,1057 C1020,1052 1024,1058 1023,1066 C1022,1075 1018,1078 1011.5,1080" fill="none" stroke-width="1.8"/><path d="M1011.5,1060 C1017,1058 1019.5,1061 1019,1066 C1018.5,1071 1016,1073 1011.5,1074.5" fill="none" stroke-width="1.6"/><path d="M982,1064 L983.5,1096 Q996,1102 1010,1095.5 L1011,1054 Q1000,1057 991,1056 Z" fill="#fff" stroke-width="2.6"/><path d="M988,1060 L989,1097 M992.5,1057 L991,1098 M999.5,1057 L1000.5,1098 M1004.5,1057 L1004,1097" fill="none" stroke-width="1.3"/><path d="M982,1067 C977,1067 975,1063 977,1060 C972.5,1058 973,1053 976.5,1051.5 C973,1048 976,1044 980.5,1045 C982,1040 989,1040 991.5,1047.5 C993.5,1042.5 1001,1043 1003.5,1048.5 C1007,1045 1013.5,1047 1012.5,1053 C1006,1055 998,1056 992.5,1055.5 C990,1059 988,1065 982,1067 Z" fill="#fff" stroke-width="1.7"/></g>
<path d="M768.5,1928 L771.5,1921.5 L771.5,1886 Q774,1882 777,1886 L777,1892.5 L784,1892.5 L784,1886 Q786.8,1882 789.5,1886 L790,1904.5 L792.5,1904.5 L792.5,1899 Q795,1895 797.3,1899 L797.3,1904.8 L805.3,1904.8 L805.3,1899 Q807.6,1895 809.8,1899 L809.8,1921.5 L811.5,1928 Z" fill="#000" stroke="#000" stroke-width="1.6" stroke-linejoin="round"/>
<rect x="775.8" y="1906.8" width="8.2" height="15.6" rx="2.2" fill="#fff"/>
<path d="M1641,2008.3 L1641,1957 L1644.3,1945.5 L1647.6,1959 L1652.7,1959 L1652.7,1945.5 L1656.4,1924.3 L1660,1945.5 L1660,1957 L1667.4,1951.6 L1675.9,1960.9 L1675.9,1938.6 L1673.9,1938.6 L1673.9,1934 L1677,1933.2 L1682,1891.2 L1687.8,1933.2 L1689.7,1934 L1689.7,1938.6 L1688.2,1938.6 L1688.2,1971.7 L1694.7,1971.7 L1694.7,1957 L1698.2,1945.5 L1701.8,1957 L1701.8,2008.3 Z" fill="#000"/>
<path d="M1662,2014 L1662,1999 A8.1,8.8 0 0 1 1678.2,1999 L1678.2,2014 Z" fill="#fff"/>
<g fill="#000" stroke="#000"><ellipse cx="1856.6" cy="1554.8" rx="5.4" ry="3.8" transform="rotate(-15 1856.6 1554.8)" stroke="none"/><path d="M1861,1554.5 L1861,1533 L1867.8,1537" fill="none" stroke-width="2"/><ellipse cx="1886.1" cy="1567.6" rx="4.1" ry="3" transform="rotate(-15 1886.1 1567.6)" stroke="none"/><ellipse cx="1900.2" cy="1562.1" rx="4.1" ry="3" transform="rotate(-15 1900.2 1562.1)" stroke="none"/><path d="M1889.8,1567.6 L1889.8,1550.3 L1904.2,1546 L1904.2,1562 M1889.8,1554.4 L1904.2,1550.4" fill="none" stroke-width="1.7"/><ellipse cx="1839.9" cy="1598.1" rx="7" ry="5.2" transform="rotate(-15 1839.9 1598.1)" stroke="none"/><ellipse cx="1866.3" cy="1592.1" rx="7" ry="5.2" transform="rotate(-15 1866.3 1592.1)" stroke="none"/><path d="M1846.1,1597.4 L1846.1,1570.6 L1872.3,1564.8 L1872.3,1592 M1846.1,1577.6 L1872.3,1571.4" fill="none" stroke-width="2.5"/></g>
<circle cx="2114" cy="824" r="22.5" fill="#fff" stroke="#000" stroke-width="1.8"/>
<path d="M2104,814 L2124,834 M2124,814 L2104,834" fill="none" stroke="#000" stroke-width="6" stroke-linecap="square"/>
</svg>
</body></html>
